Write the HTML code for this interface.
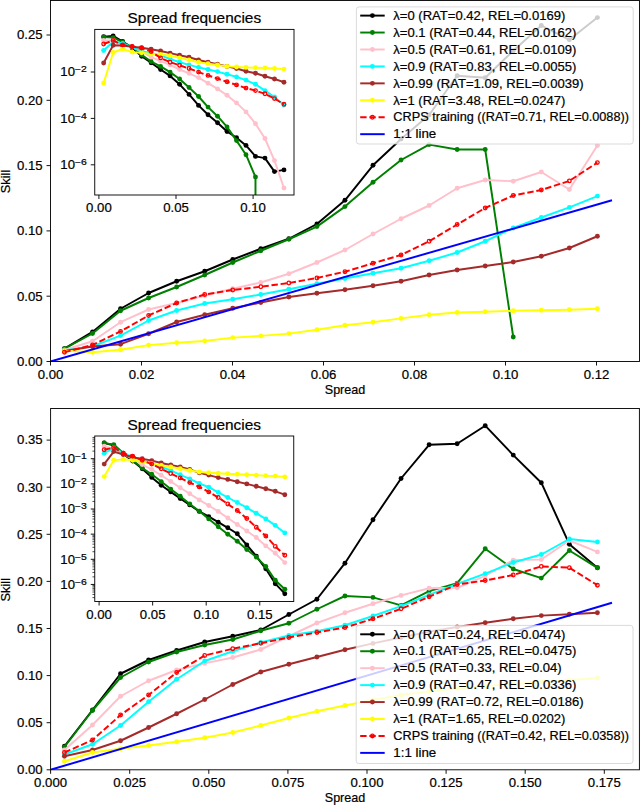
<!DOCTYPE html><html><head><meta charset="utf-8"><title>Spread-skill</title><style>html,body{margin:0;padding:0;background:#fff;width:640px;height:806px;overflow:hidden}svg text{font-family:"Liberation Sans",sans-serif}</style></head><body><svg width="640" height="806" viewBox="0 0 640 806" style="display:block;font-family:'Liberation Sans',sans-serif"><defs><clipPath id="ctop"><rect x="50.5" y="0.5" width="589.0" height="361.0"/></clipPath><clipPath id="cbot"><rect x="50.6" y="408.5" width="588.8" height="361.29999999999995"/></clipPath><clipPath id="cti"><rect x="94.75" y="29.4" width="199.25" height="165.6"/></clipPath><clipPath id="cbi"><rect x="94.75" y="436.0" width="199.0" height="165.5"/></clipPath></defs><rect width="640" height="806" fill="#fff"/><polyline points="64.45,348.60 92.50,331.90 120.55,308.75 148.60,293.00 176.65,281.25 204.70,271.25 232.75,259.50 260.80,248.75 288.85,238.75 316.90,224.00 344.95,200.30 373.00,165.30 401.05,139.00 429.10,115.00 457.15,75.80 485.20,77.80 513.25,50.80 541.30,25.50 569.35,39.80 597.40,17.60" fill="none" stroke="#000000" stroke-width="1.95" stroke-linejoin="round" stroke-linecap="butt" clip-path="url(#ctop)"/>
<circle cx="64.45" cy="348.60" r="2.45" fill="#000000" clip-path="url(#ctop)"/>
<circle cx="92.50" cy="331.90" r="2.45" fill="#000000" clip-path="url(#ctop)"/>
<circle cx="120.55" cy="308.75" r="2.45" fill="#000000" clip-path="url(#ctop)"/>
<circle cx="148.60" cy="293.00" r="2.45" fill="#000000" clip-path="url(#ctop)"/>
<circle cx="176.65" cy="281.25" r="2.45" fill="#000000" clip-path="url(#ctop)"/>
<circle cx="204.70" cy="271.25" r="2.45" fill="#000000" clip-path="url(#ctop)"/>
<circle cx="232.75" cy="259.50" r="2.45" fill="#000000" clip-path="url(#ctop)"/>
<circle cx="260.80" cy="248.75" r="2.45" fill="#000000" clip-path="url(#ctop)"/>
<circle cx="288.85" cy="238.75" r="2.45" fill="#000000" clip-path="url(#ctop)"/>
<circle cx="316.90" cy="224.00" r="2.45" fill="#000000" clip-path="url(#ctop)"/>
<circle cx="344.95" cy="200.30" r="2.45" fill="#000000" clip-path="url(#ctop)"/>
<circle cx="373.00" cy="165.30" r="2.45" fill="#000000" clip-path="url(#ctop)"/>
<circle cx="401.05" cy="139.00" r="2.45" fill="#000000" clip-path="url(#ctop)"/>
<circle cx="429.10" cy="115.00" r="2.45" fill="#000000" clip-path="url(#ctop)"/>
<circle cx="457.15" cy="75.80" r="2.45" fill="#000000" clip-path="url(#ctop)"/>
<circle cx="485.20" cy="77.80" r="2.45" fill="#000000" clip-path="url(#ctop)"/>
<circle cx="513.25" cy="50.80" r="2.45" fill="#000000" clip-path="url(#ctop)"/>
<circle cx="541.30" cy="25.50" r="2.45" fill="#000000" clip-path="url(#ctop)"/>
<circle cx="569.35" cy="39.80" r="2.45" fill="#000000" clip-path="url(#ctop)"/>
<circle cx="597.40" cy="17.60" r="2.45" fill="#000000" clip-path="url(#ctop)"/>
<polyline points="64.45,348.60 92.50,333.50 120.55,310.75 148.60,298.00 176.65,287.00 204.70,275.00 232.75,262.50 260.80,250.75 288.85,239.25 316.90,226.60 344.95,206.60 373.00,182.30 401.05,160.00 429.10,144.60 457.15,149.50 485.20,149.50 513.25,337.00" fill="none" stroke="#008000" stroke-width="1.95" stroke-linejoin="round" stroke-linecap="butt" clip-path="url(#ctop)"/>
<circle cx="64.45" cy="348.60" r="2.45" fill="#008000" clip-path="url(#ctop)"/>
<circle cx="92.50" cy="333.50" r="2.45" fill="#008000" clip-path="url(#ctop)"/>
<circle cx="120.55" cy="310.75" r="2.45" fill="#008000" clip-path="url(#ctop)"/>
<circle cx="148.60" cy="298.00" r="2.45" fill="#008000" clip-path="url(#ctop)"/>
<circle cx="176.65" cy="287.00" r="2.45" fill="#008000" clip-path="url(#ctop)"/>
<circle cx="204.70" cy="275.00" r="2.45" fill="#008000" clip-path="url(#ctop)"/>
<circle cx="232.75" cy="262.50" r="2.45" fill="#008000" clip-path="url(#ctop)"/>
<circle cx="260.80" cy="250.75" r="2.45" fill="#008000" clip-path="url(#ctop)"/>
<circle cx="288.85" cy="239.25" r="2.45" fill="#008000" clip-path="url(#ctop)"/>
<circle cx="316.90" cy="226.60" r="2.45" fill="#008000" clip-path="url(#ctop)"/>
<circle cx="344.95" cy="206.60" r="2.45" fill="#008000" clip-path="url(#ctop)"/>
<circle cx="373.00" cy="182.30" r="2.45" fill="#008000" clip-path="url(#ctop)"/>
<circle cx="401.05" cy="160.00" r="2.45" fill="#008000" clip-path="url(#ctop)"/>
<circle cx="429.10" cy="144.60" r="2.45" fill="#008000" clip-path="url(#ctop)"/>
<circle cx="457.15" cy="149.50" r="2.45" fill="#008000" clip-path="url(#ctop)"/>
<circle cx="485.20" cy="149.50" r="2.45" fill="#008000" clip-path="url(#ctop)"/>
<circle cx="513.25" cy="337.00" r="2.45" fill="#008000" clip-path="url(#ctop)"/>
<polyline points="64.45,350.00 92.50,341.25 120.55,322.20 148.60,309.50 176.65,303.00 204.70,295.50 232.75,288.75 260.80,282.50 288.85,273.75 316.90,262.50 344.95,250.00 373.00,234.00 401.05,218.75 429.10,205.50 457.15,188.25 485.20,180.00 513.25,181.25 541.30,172.00 569.35,189.50 597.40,145.50" fill="none" stroke="#ffc0cb" stroke-width="1.95" stroke-linejoin="round" stroke-linecap="butt" clip-path="url(#ctop)"/>
<circle cx="64.45" cy="350.00" r="2.45" fill="#ffc0cb" clip-path="url(#ctop)"/>
<circle cx="92.50" cy="341.25" r="2.45" fill="#ffc0cb" clip-path="url(#ctop)"/>
<circle cx="120.55" cy="322.20" r="2.45" fill="#ffc0cb" clip-path="url(#ctop)"/>
<circle cx="148.60" cy="309.50" r="2.45" fill="#ffc0cb" clip-path="url(#ctop)"/>
<circle cx="176.65" cy="303.00" r="2.45" fill="#ffc0cb" clip-path="url(#ctop)"/>
<circle cx="204.70" cy="295.50" r="2.45" fill="#ffc0cb" clip-path="url(#ctop)"/>
<circle cx="232.75" cy="288.75" r="2.45" fill="#ffc0cb" clip-path="url(#ctop)"/>
<circle cx="260.80" cy="282.50" r="2.45" fill="#ffc0cb" clip-path="url(#ctop)"/>
<circle cx="288.85" cy="273.75" r="2.45" fill="#ffc0cb" clip-path="url(#ctop)"/>
<circle cx="316.90" cy="262.50" r="2.45" fill="#ffc0cb" clip-path="url(#ctop)"/>
<circle cx="344.95" cy="250.00" r="2.45" fill="#ffc0cb" clip-path="url(#ctop)"/>
<circle cx="373.00" cy="234.00" r="2.45" fill="#ffc0cb" clip-path="url(#ctop)"/>
<circle cx="401.05" cy="218.75" r="2.45" fill="#ffc0cb" clip-path="url(#ctop)"/>
<circle cx="429.10" cy="205.50" r="2.45" fill="#ffc0cb" clip-path="url(#ctop)"/>
<circle cx="457.15" cy="188.25" r="2.45" fill="#ffc0cb" clip-path="url(#ctop)"/>
<circle cx="485.20" cy="180.00" r="2.45" fill="#ffc0cb" clip-path="url(#ctop)"/>
<circle cx="513.25" cy="181.25" r="2.45" fill="#ffc0cb" clip-path="url(#ctop)"/>
<circle cx="541.30" cy="172.00" r="2.45" fill="#ffc0cb" clip-path="url(#ctop)"/>
<circle cx="569.35" cy="189.50" r="2.45" fill="#ffc0cb" clip-path="url(#ctop)"/>
<circle cx="597.40" cy="145.50" r="2.45" fill="#ffc0cb" clip-path="url(#ctop)"/>
<polyline points="64.45,350.50 92.50,346.25 120.55,335.60 148.60,320.50 176.65,310.50 204.70,303.50 232.75,299.25 260.80,294.50 288.85,289.25 316.90,283.75 344.95,278.50 373.00,273.25 401.05,268.25 429.10,260.75 457.15,252.50 485.20,241.25 513.25,228.00 541.30,217.50 569.35,207.40 597.40,196.10" fill="none" stroke="#00ffff" stroke-width="1.95" stroke-linejoin="round" stroke-linecap="butt" clip-path="url(#ctop)"/>
<circle cx="64.45" cy="350.50" r="2.45" fill="#00ffff" clip-path="url(#ctop)"/>
<circle cx="92.50" cy="346.25" r="2.45" fill="#00ffff" clip-path="url(#ctop)"/>
<circle cx="120.55" cy="335.60" r="2.45" fill="#00ffff" clip-path="url(#ctop)"/>
<circle cx="148.60" cy="320.50" r="2.45" fill="#00ffff" clip-path="url(#ctop)"/>
<circle cx="176.65" cy="310.50" r="2.45" fill="#00ffff" clip-path="url(#ctop)"/>
<circle cx="204.70" cy="303.50" r="2.45" fill="#00ffff" clip-path="url(#ctop)"/>
<circle cx="232.75" cy="299.25" r="2.45" fill="#00ffff" clip-path="url(#ctop)"/>
<circle cx="260.80" cy="294.50" r="2.45" fill="#00ffff" clip-path="url(#ctop)"/>
<circle cx="288.85" cy="289.25" r="2.45" fill="#00ffff" clip-path="url(#ctop)"/>
<circle cx="316.90" cy="283.75" r="2.45" fill="#00ffff" clip-path="url(#ctop)"/>
<circle cx="344.95" cy="278.50" r="2.45" fill="#00ffff" clip-path="url(#ctop)"/>
<circle cx="373.00" cy="273.25" r="2.45" fill="#00ffff" clip-path="url(#ctop)"/>
<circle cx="401.05" cy="268.25" r="2.45" fill="#00ffff" clip-path="url(#ctop)"/>
<circle cx="429.10" cy="260.75" r="2.45" fill="#00ffff" clip-path="url(#ctop)"/>
<circle cx="457.15" cy="252.50" r="2.45" fill="#00ffff" clip-path="url(#ctop)"/>
<circle cx="485.20" cy="241.25" r="2.45" fill="#00ffff" clip-path="url(#ctop)"/>
<circle cx="513.25" cy="228.00" r="2.45" fill="#00ffff" clip-path="url(#ctop)"/>
<circle cx="541.30" cy="217.50" r="2.45" fill="#00ffff" clip-path="url(#ctop)"/>
<circle cx="569.35" cy="207.40" r="2.45" fill="#00ffff" clip-path="url(#ctop)"/>
<circle cx="597.40" cy="196.10" r="2.45" fill="#00ffff" clip-path="url(#ctop)"/>
<polyline points="64.45,351.00 92.50,346.50 120.55,344.20 148.60,333.75 176.65,322.00 204.70,314.75 232.75,308.25 260.80,302.50 288.85,297.00 316.90,293.25 344.95,289.75 373.00,285.75 401.05,281.25 429.10,275.00 457.15,270.00 485.20,266.00 513.25,262.00 541.30,256.25 569.35,248.00 597.40,236.25" fill="none" stroke="#a52a2a" stroke-width="1.95" stroke-linejoin="round" stroke-linecap="butt" clip-path="url(#ctop)"/>
<circle cx="64.45" cy="351.00" r="2.45" fill="#a52a2a" clip-path="url(#ctop)"/>
<circle cx="92.50" cy="346.50" r="2.45" fill="#a52a2a" clip-path="url(#ctop)"/>
<circle cx="120.55" cy="344.20" r="2.45" fill="#a52a2a" clip-path="url(#ctop)"/>
<circle cx="148.60" cy="333.75" r="2.45" fill="#a52a2a" clip-path="url(#ctop)"/>
<circle cx="176.65" cy="322.00" r="2.45" fill="#a52a2a" clip-path="url(#ctop)"/>
<circle cx="204.70" cy="314.75" r="2.45" fill="#a52a2a" clip-path="url(#ctop)"/>
<circle cx="232.75" cy="308.25" r="2.45" fill="#a52a2a" clip-path="url(#ctop)"/>
<circle cx="260.80" cy="302.50" r="2.45" fill="#a52a2a" clip-path="url(#ctop)"/>
<circle cx="288.85" cy="297.00" r="2.45" fill="#a52a2a" clip-path="url(#ctop)"/>
<circle cx="316.90" cy="293.25" r="2.45" fill="#a52a2a" clip-path="url(#ctop)"/>
<circle cx="344.95" cy="289.75" r="2.45" fill="#a52a2a" clip-path="url(#ctop)"/>
<circle cx="373.00" cy="285.75" r="2.45" fill="#a52a2a" clip-path="url(#ctop)"/>
<circle cx="401.05" cy="281.25" r="2.45" fill="#a52a2a" clip-path="url(#ctop)"/>
<circle cx="429.10" cy="275.00" r="2.45" fill="#a52a2a" clip-path="url(#ctop)"/>
<circle cx="457.15" cy="270.00" r="2.45" fill="#a52a2a" clip-path="url(#ctop)"/>
<circle cx="485.20" cy="266.00" r="2.45" fill="#a52a2a" clip-path="url(#ctop)"/>
<circle cx="513.25" cy="262.00" r="2.45" fill="#a52a2a" clip-path="url(#ctop)"/>
<circle cx="541.30" cy="256.25" r="2.45" fill="#a52a2a" clip-path="url(#ctop)"/>
<circle cx="569.35" cy="248.00" r="2.45" fill="#a52a2a" clip-path="url(#ctop)"/>
<circle cx="597.40" cy="236.25" r="2.45" fill="#a52a2a" clip-path="url(#ctop)"/>
<polyline points="64.45,350.60 92.50,352.25 120.55,349.75 148.60,345.10 176.65,342.80 204.70,341.00 232.75,337.60 260.80,335.90 288.85,333.60 316.90,329.70 344.95,325.30 373.00,322.30 401.05,318.40 429.10,314.70 457.15,312.50 485.20,311.80 513.25,310.75 541.30,310.30 569.35,309.70 597.40,308.80" fill="none" stroke="#ffff00" stroke-width="1.95" stroke-linejoin="round" stroke-linecap="butt" clip-path="url(#ctop)"/>
<circle cx="64.45" cy="350.60" r="2.45" fill="#ffff00" clip-path="url(#ctop)"/>
<circle cx="92.50" cy="352.25" r="2.45" fill="#ffff00" clip-path="url(#ctop)"/>
<circle cx="120.55" cy="349.75" r="2.45" fill="#ffff00" clip-path="url(#ctop)"/>
<circle cx="148.60" cy="345.10" r="2.45" fill="#ffff00" clip-path="url(#ctop)"/>
<circle cx="176.65" cy="342.80" r="2.45" fill="#ffff00" clip-path="url(#ctop)"/>
<circle cx="204.70" cy="341.00" r="2.45" fill="#ffff00" clip-path="url(#ctop)"/>
<circle cx="232.75" cy="337.60" r="2.45" fill="#ffff00" clip-path="url(#ctop)"/>
<circle cx="260.80" cy="335.90" r="2.45" fill="#ffff00" clip-path="url(#ctop)"/>
<circle cx="288.85" cy="333.60" r="2.45" fill="#ffff00" clip-path="url(#ctop)"/>
<circle cx="316.90" cy="329.70" r="2.45" fill="#ffff00" clip-path="url(#ctop)"/>
<circle cx="344.95" cy="325.30" r="2.45" fill="#ffff00" clip-path="url(#ctop)"/>
<circle cx="373.00" cy="322.30" r="2.45" fill="#ffff00" clip-path="url(#ctop)"/>
<circle cx="401.05" cy="318.40" r="2.45" fill="#ffff00" clip-path="url(#ctop)"/>
<circle cx="429.10" cy="314.70" r="2.45" fill="#ffff00" clip-path="url(#ctop)"/>
<circle cx="457.15" cy="312.50" r="2.45" fill="#ffff00" clip-path="url(#ctop)"/>
<circle cx="485.20" cy="311.80" r="2.45" fill="#ffff00" clip-path="url(#ctop)"/>
<circle cx="513.25" cy="310.75" r="2.45" fill="#ffff00" clip-path="url(#ctop)"/>
<circle cx="541.30" cy="310.30" r="2.45" fill="#ffff00" clip-path="url(#ctop)"/>
<circle cx="569.35" cy="309.70" r="2.45" fill="#ffff00" clip-path="url(#ctop)"/>
<circle cx="597.40" cy="308.80" r="2.45" fill="#ffff00" clip-path="url(#ctop)"/>
<polyline points="64.45,352.25 92.50,345.00 120.55,331.40 148.60,315.50 176.65,303.00 204.70,294.50 232.75,290.00 260.80,286.75 288.85,283.00 316.90,278.00 344.95,271.75 373.00,263.25 401.05,255.00 429.10,241.25 457.15,224.50 485.20,208.00 513.25,195.50 541.30,190.00 569.35,180.90 597.40,162.60" fill="none" stroke="#ff0000" stroke-width="1.95" stroke-linejoin="round" stroke-linecap="butt" stroke-dasharray="6.4,2.76" clip-path="url(#ctop)"/>
<circle cx="64.45" cy="352.25" r="1.80" fill="none" stroke="#ff0000" stroke-width="1.3" clip-path="url(#ctop)"/>
<circle cx="92.50" cy="345.00" r="1.80" fill="none" stroke="#ff0000" stroke-width="1.3" clip-path="url(#ctop)"/>
<circle cx="120.55" cy="331.40" r="1.80" fill="none" stroke="#ff0000" stroke-width="1.3" clip-path="url(#ctop)"/>
<circle cx="148.60" cy="315.50" r="1.80" fill="none" stroke="#ff0000" stroke-width="1.3" clip-path="url(#ctop)"/>
<circle cx="176.65" cy="303.00" r="1.80" fill="none" stroke="#ff0000" stroke-width="1.3" clip-path="url(#ctop)"/>
<circle cx="204.70" cy="294.50" r="1.80" fill="none" stroke="#ff0000" stroke-width="1.3" clip-path="url(#ctop)"/>
<circle cx="232.75" cy="290.00" r="1.80" fill="none" stroke="#ff0000" stroke-width="1.3" clip-path="url(#ctop)"/>
<circle cx="260.80" cy="286.75" r="1.80" fill="none" stroke="#ff0000" stroke-width="1.3" clip-path="url(#ctop)"/>
<circle cx="288.85" cy="283.00" r="1.80" fill="none" stroke="#ff0000" stroke-width="1.3" clip-path="url(#ctop)"/>
<circle cx="316.90" cy="278.00" r="1.80" fill="none" stroke="#ff0000" stroke-width="1.3" clip-path="url(#ctop)"/>
<circle cx="344.95" cy="271.75" r="1.80" fill="none" stroke="#ff0000" stroke-width="1.3" clip-path="url(#ctop)"/>
<circle cx="373.00" cy="263.25" r="1.80" fill="none" stroke="#ff0000" stroke-width="1.3" clip-path="url(#ctop)"/>
<circle cx="401.05" cy="255.00" r="1.80" fill="none" stroke="#ff0000" stroke-width="1.3" clip-path="url(#ctop)"/>
<circle cx="429.10" cy="241.25" r="1.80" fill="none" stroke="#ff0000" stroke-width="1.3" clip-path="url(#ctop)"/>
<circle cx="457.15" cy="224.50" r="1.80" fill="none" stroke="#ff0000" stroke-width="1.3" clip-path="url(#ctop)"/>
<circle cx="485.20" cy="208.00" r="1.80" fill="none" stroke="#ff0000" stroke-width="1.3" clip-path="url(#ctop)"/>
<circle cx="513.25" cy="195.50" r="1.80" fill="none" stroke="#ff0000" stroke-width="1.3" clip-path="url(#ctop)"/>
<circle cx="541.30" cy="190.00" r="1.80" fill="none" stroke="#ff0000" stroke-width="1.3" clip-path="url(#ctop)"/>
<circle cx="569.35" cy="180.90" r="1.80" fill="none" stroke="#ff0000" stroke-width="1.3" clip-path="url(#ctop)"/>
<circle cx="597.40" cy="162.60" r="1.80" fill="none" stroke="#ff0000" stroke-width="1.3" clip-path="url(#ctop)"/>
<line x1="50.5" y1="361.5" x2="612" y2="200.3" stroke="#0000ff" stroke-width="1.95" clip-path="url(#ctop)"/>
<rect x="50.5" y="0.5" width="589.0" height="361.0" fill="none" stroke="#000" stroke-width="0.92"/>
<line x1="50.50" y1="361.5" x2="50.50" y2="365.5" stroke="#000" stroke-width="0.92"/>
<text x="50.50" y="378.70" font-size="12.08" text-anchor="middle" textLength="25.61" lengthAdjust="spacingAndGlyphs" fill="#000" stroke="#000" stroke-width="0.2" >0.00</text>
<line x1="141.50" y1="361.5" x2="141.50" y2="365.5" stroke="#000" stroke-width="0.92"/>
<text x="141.50" y="378.70" font-size="12.08" text-anchor="middle" textLength="25.61" lengthAdjust="spacingAndGlyphs" fill="#000" stroke="#000" stroke-width="0.2" >0.02</text>
<line x1="232.50" y1="361.5" x2="232.50" y2="365.5" stroke="#000" stroke-width="0.92"/>
<text x="232.50" y="378.70" font-size="12.08" text-anchor="middle" textLength="25.61" lengthAdjust="spacingAndGlyphs" fill="#000" stroke="#000" stroke-width="0.2" >0.04</text>
<line x1="323.50" y1="361.5" x2="323.50" y2="365.5" stroke="#000" stroke-width="0.92"/>
<text x="323.50" y="378.70" font-size="12.08" text-anchor="middle" textLength="25.61" lengthAdjust="spacingAndGlyphs" fill="#000" stroke="#000" stroke-width="0.2" >0.06</text>
<line x1="414.50" y1="361.5" x2="414.50" y2="365.5" stroke="#000" stroke-width="0.92"/>
<text x="414.50" y="378.70" font-size="12.08" text-anchor="middle" textLength="25.61" lengthAdjust="spacingAndGlyphs" fill="#000" stroke="#000" stroke-width="0.2" >0.08</text>
<line x1="505.50" y1="361.5" x2="505.50" y2="365.5" stroke="#000" stroke-width="0.92"/>
<text x="505.50" y="378.70" font-size="12.08" text-anchor="middle" textLength="25.61" lengthAdjust="spacingAndGlyphs" fill="#000" stroke="#000" stroke-width="0.2" >0.10</text>
<line x1="596.50" y1="361.5" x2="596.50" y2="365.5" stroke="#000" stroke-width="0.92"/>
<text x="596.50" y="378.70" font-size="12.08" text-anchor="middle" textLength="25.61" lengthAdjust="spacingAndGlyphs" fill="#000" stroke="#000" stroke-width="0.2" >0.12</text>
<line x1="46.5" y1="361.50" x2="50.5" y2="361.50" stroke="#000" stroke-width="0.92"/>
<text x="42.60" y="365.80" font-size="12.08" text-anchor="end" textLength="25.61" lengthAdjust="spacingAndGlyphs" fill="#000" stroke="#000" stroke-width="0.2" >0.00</text>
<line x1="46.5" y1="296.20" x2="50.5" y2="296.20" stroke="#000" stroke-width="0.92"/>
<text x="42.60" y="300.50" font-size="12.08" text-anchor="end" textLength="25.61" lengthAdjust="spacingAndGlyphs" fill="#000" stroke="#000" stroke-width="0.2" >0.05</text>
<line x1="46.5" y1="230.90" x2="50.5" y2="230.90" stroke="#000" stroke-width="0.92"/>
<text x="42.60" y="235.20" font-size="12.08" text-anchor="end" textLength="25.61" lengthAdjust="spacingAndGlyphs" fill="#000" stroke="#000" stroke-width="0.2" >0.10</text>
<line x1="46.5" y1="165.60" x2="50.5" y2="165.60" stroke="#000" stroke-width="0.92"/>
<text x="42.60" y="169.90" font-size="12.08" text-anchor="end" textLength="25.61" lengthAdjust="spacingAndGlyphs" fill="#000" stroke="#000" stroke-width="0.2" >0.15</text>
<line x1="46.5" y1="100.30" x2="50.5" y2="100.30" stroke="#000" stroke-width="0.92"/>
<text x="42.60" y="104.60" font-size="12.08" text-anchor="end" textLength="25.61" lengthAdjust="spacingAndGlyphs" fill="#000" stroke="#000" stroke-width="0.2" >0.20</text>
<line x1="46.5" y1="35.00" x2="50.5" y2="35.00" stroke="#000" stroke-width="0.92"/>
<text x="42.60" y="39.30" font-size="12.08" text-anchor="end" textLength="25.61" lengthAdjust="spacingAndGlyphs" fill="#000" stroke="#000" stroke-width="0.2" >0.25</text>
<text x="345.00" y="393.90" font-size="12.08" text-anchor="middle" textLength="40.50" lengthAdjust="spacingAndGlyphs" fill="#000" stroke="#000" stroke-width="0.2" >Spread</text>
<text x="0.00" y="0.00" font-size="12.08" text-anchor="middle" textLength="23.54" lengthAdjust="spacingAndGlyphs" fill="#000" stroke="#000" stroke-width="0.2" transform="translate(10.0,181.5) rotate(-90)">Skill</text>
<rect x="94.75" y="29.4" width="199.25" height="165.6" fill="#fff"/>
<polyline points="103.65,36.75 113.14,35.90 122.63,41.50 132.12,47.75 141.61,56.25 151.10,62.75 160.59,69.50 170.08,75.90 179.57,84.30 189.06,94.40 198.55,105.40 208.04,114.70 217.53,122.70 227.02,131.50 236.51,137.80 246.00,145.40 255.49,156.40 264.98,158.10 274.47,171.60 283.96,169.90" fill="none" stroke="#000000" stroke-width="1.95" stroke-linejoin="round" stroke-linecap="butt" clip-path="url(#cti)"/>
<circle cx="103.65" cy="36.75" r="2.45" fill="#000000" clip-path="url(#cti)"/>
<circle cx="113.14" cy="35.90" r="2.45" fill="#000000" clip-path="url(#cti)"/>
<circle cx="122.63" cy="41.50" r="2.45" fill="#000000" clip-path="url(#cti)"/>
<circle cx="132.12" cy="47.75" r="2.45" fill="#000000" clip-path="url(#cti)"/>
<circle cx="141.61" cy="56.25" r="2.45" fill="#000000" clip-path="url(#cti)"/>
<circle cx="151.10" cy="62.75" r="2.45" fill="#000000" clip-path="url(#cti)"/>
<circle cx="160.59" cy="69.50" r="2.45" fill="#000000" clip-path="url(#cti)"/>
<circle cx="170.08" cy="75.90" r="2.45" fill="#000000" clip-path="url(#cti)"/>
<circle cx="179.57" cy="84.30" r="2.45" fill="#000000" clip-path="url(#cti)"/>
<circle cx="189.06" cy="94.40" r="2.45" fill="#000000" clip-path="url(#cti)"/>
<circle cx="198.55" cy="105.40" r="2.45" fill="#000000" clip-path="url(#cti)"/>
<circle cx="208.04" cy="114.70" r="2.45" fill="#000000" clip-path="url(#cti)"/>
<circle cx="217.53" cy="122.70" r="2.45" fill="#000000" clip-path="url(#cti)"/>
<circle cx="227.02" cy="131.50" r="2.45" fill="#000000" clip-path="url(#cti)"/>
<circle cx="236.51" cy="137.80" r="2.45" fill="#000000" clip-path="url(#cti)"/>
<circle cx="246.00" cy="145.40" r="2.45" fill="#000000" clip-path="url(#cti)"/>
<circle cx="255.49" cy="156.40" r="2.45" fill="#000000" clip-path="url(#cti)"/>
<circle cx="264.98" cy="158.10" r="2.45" fill="#000000" clip-path="url(#cti)"/>
<circle cx="274.47" cy="171.60" r="2.45" fill="#000000" clip-path="url(#cti)"/>
<circle cx="283.96" cy="169.90" r="2.45" fill="#000000" clip-path="url(#cti)"/>
<polyline points="103.65,37.10 113.14,37.60 122.63,42.10 132.12,47.10 141.61,54.90 151.10,61.50 160.59,66.40 170.08,72.10 179.57,79.00 189.06,87.50 198.55,96.50 208.04,107.10 217.53,116.20 227.02,126.90 236.51,140.60 246.00,154.70 255.49,177.00 255.49,200.00" fill="none" stroke="#008000" stroke-width="1.95" stroke-linejoin="round" stroke-linecap="butt" clip-path="url(#cti)"/>
<circle cx="103.65" cy="37.10" r="2.45" fill="#008000" clip-path="url(#cti)"/>
<circle cx="113.14" cy="37.60" r="2.45" fill="#008000" clip-path="url(#cti)"/>
<circle cx="122.63" cy="42.10" r="2.45" fill="#008000" clip-path="url(#cti)"/>
<circle cx="132.12" cy="47.10" r="2.45" fill="#008000" clip-path="url(#cti)"/>
<circle cx="141.61" cy="54.90" r="2.45" fill="#008000" clip-path="url(#cti)"/>
<circle cx="151.10" cy="61.50" r="2.45" fill="#008000" clip-path="url(#cti)"/>
<circle cx="160.59" cy="66.40" r="2.45" fill="#008000" clip-path="url(#cti)"/>
<circle cx="170.08" cy="72.10" r="2.45" fill="#008000" clip-path="url(#cti)"/>
<circle cx="179.57" cy="79.00" r="2.45" fill="#008000" clip-path="url(#cti)"/>
<circle cx="189.06" cy="87.50" r="2.45" fill="#008000" clip-path="url(#cti)"/>
<circle cx="198.55" cy="96.50" r="2.45" fill="#008000" clip-path="url(#cti)"/>
<circle cx="208.04" cy="107.10" r="2.45" fill="#008000" clip-path="url(#cti)"/>
<circle cx="217.53" cy="116.20" r="2.45" fill="#008000" clip-path="url(#cti)"/>
<circle cx="227.02" cy="126.90" r="2.45" fill="#008000" clip-path="url(#cti)"/>
<circle cx="236.51" cy="140.60" r="2.45" fill="#008000" clip-path="url(#cti)"/>
<circle cx="246.00" cy="154.70" r="2.45" fill="#008000" clip-path="url(#cti)"/>
<circle cx="255.49" cy="177.00" r="2.45" fill="#008000" clip-path="url(#cti)"/>
<polyline points="103.65,40.50 113.14,40.50 122.63,44.60 132.12,47.10 141.61,51.50 151.10,57.10 160.59,61.10 170.08,64.90 179.57,69.50 189.06,73.30 198.55,77.60 208.04,83.20 217.53,88.90 227.02,95.30 236.51,102.90 246.00,111.90 255.49,123.70 264.98,138.50 274.47,160.60 283.96,188.00" fill="none" stroke="#ffc0cb" stroke-width="1.95" stroke-linejoin="round" stroke-linecap="butt" clip-path="url(#cti)"/>
<circle cx="103.65" cy="40.50" r="2.45" fill="#ffc0cb" clip-path="url(#cti)"/>
<circle cx="113.14" cy="40.50" r="2.45" fill="#ffc0cb" clip-path="url(#cti)"/>
<circle cx="122.63" cy="44.60" r="2.45" fill="#ffc0cb" clip-path="url(#cti)"/>
<circle cx="132.12" cy="47.10" r="2.45" fill="#ffc0cb" clip-path="url(#cti)"/>
<circle cx="141.61" cy="51.50" r="2.45" fill="#ffc0cb" clip-path="url(#cti)"/>
<circle cx="151.10" cy="57.10" r="2.45" fill="#ffc0cb" clip-path="url(#cti)"/>
<circle cx="160.59" cy="61.10" r="2.45" fill="#ffc0cb" clip-path="url(#cti)"/>
<circle cx="170.08" cy="64.90" r="2.45" fill="#ffc0cb" clip-path="url(#cti)"/>
<circle cx="179.57" cy="69.50" r="2.45" fill="#ffc0cb" clip-path="url(#cti)"/>
<circle cx="189.06" cy="73.30" r="2.45" fill="#ffc0cb" clip-path="url(#cti)"/>
<circle cx="198.55" cy="77.60" r="2.45" fill="#ffc0cb" clip-path="url(#cti)"/>
<circle cx="208.04" cy="83.20" r="2.45" fill="#ffc0cb" clip-path="url(#cti)"/>
<circle cx="217.53" cy="88.90" r="2.45" fill="#ffc0cb" clip-path="url(#cti)"/>
<circle cx="227.02" cy="95.30" r="2.45" fill="#ffc0cb" clip-path="url(#cti)"/>
<circle cx="236.51" cy="102.90" r="2.45" fill="#ffc0cb" clip-path="url(#cti)"/>
<circle cx="246.00" cy="111.90" r="2.45" fill="#ffc0cb" clip-path="url(#cti)"/>
<circle cx="255.49" cy="123.70" r="2.45" fill="#ffc0cb" clip-path="url(#cti)"/>
<circle cx="264.98" cy="138.50" r="2.45" fill="#ffc0cb" clip-path="url(#cti)"/>
<circle cx="274.47" cy="160.60" r="2.45" fill="#ffc0cb" clip-path="url(#cti)"/>
<circle cx="283.96" cy="188.00" r="2.45" fill="#ffc0cb" clip-path="url(#cti)"/>
<polyline points="103.65,50.50 113.14,41.50 122.63,43.50 132.12,47.10 141.61,50.90 151.10,53.40 160.59,55.40 170.08,59.00 179.57,62.20 189.06,64.90 198.55,67.40 208.04,69.50 217.53,71.60 227.02,74.20 236.51,76.90 246.00,80.10 255.49,84.30 264.98,90.60 274.47,97.00 283.96,105.00" fill="none" stroke="#00ffff" stroke-width="1.95" stroke-linejoin="round" stroke-linecap="butt" clip-path="url(#cti)"/>
<circle cx="103.65" cy="50.50" r="2.45" fill="#00ffff" clip-path="url(#cti)"/>
<circle cx="113.14" cy="41.50" r="2.45" fill="#00ffff" clip-path="url(#cti)"/>
<circle cx="122.63" cy="43.50" r="2.45" fill="#00ffff" clip-path="url(#cti)"/>
<circle cx="132.12" cy="47.10" r="2.45" fill="#00ffff" clip-path="url(#cti)"/>
<circle cx="141.61" cy="50.90" r="2.45" fill="#00ffff" clip-path="url(#cti)"/>
<circle cx="151.10" cy="53.40" r="2.45" fill="#00ffff" clip-path="url(#cti)"/>
<circle cx="160.59" cy="55.40" r="2.45" fill="#00ffff" clip-path="url(#cti)"/>
<circle cx="170.08" cy="59.00" r="2.45" fill="#00ffff" clip-path="url(#cti)"/>
<circle cx="179.57" cy="62.20" r="2.45" fill="#00ffff" clip-path="url(#cti)"/>
<circle cx="189.06" cy="64.90" r="2.45" fill="#00ffff" clip-path="url(#cti)"/>
<circle cx="198.55" cy="67.40" r="2.45" fill="#00ffff" clip-path="url(#cti)"/>
<circle cx="208.04" cy="69.50" r="2.45" fill="#00ffff" clip-path="url(#cti)"/>
<circle cx="217.53" cy="71.60" r="2.45" fill="#00ffff" clip-path="url(#cti)"/>
<circle cx="227.02" cy="74.20" r="2.45" fill="#00ffff" clip-path="url(#cti)"/>
<circle cx="236.51" cy="76.90" r="2.45" fill="#00ffff" clip-path="url(#cti)"/>
<circle cx="246.00" cy="80.10" r="2.45" fill="#00ffff" clip-path="url(#cti)"/>
<circle cx="255.49" cy="84.30" r="2.45" fill="#00ffff" clip-path="url(#cti)"/>
<circle cx="264.98" cy="90.60" r="2.45" fill="#00ffff" clip-path="url(#cti)"/>
<circle cx="274.47" cy="97.00" r="2.45" fill="#00ffff" clip-path="url(#cti)"/>
<circle cx="283.96" cy="105.00" r="2.45" fill="#00ffff" clip-path="url(#cti)"/>
<polyline points="103.65,63.00 113.14,45.25 122.63,45.50 132.12,46.75 141.61,47.75 151.10,49.25 160.59,51.00 170.08,53.10 179.57,55.20 189.06,57.30 198.55,60.00 208.04,62.20 217.53,64.30 227.02,66.40 236.51,68.50 246.00,71.20 255.49,73.30 264.98,76.30 274.47,79.00 283.96,82.20" fill="none" stroke="#a52a2a" stroke-width="1.95" stroke-linejoin="round" stroke-linecap="butt" clip-path="url(#cti)"/>
<circle cx="103.65" cy="63.00" r="2.45" fill="#a52a2a" clip-path="url(#cti)"/>
<circle cx="113.14" cy="45.25" r="2.45" fill="#a52a2a" clip-path="url(#cti)"/>
<circle cx="122.63" cy="45.50" r="2.45" fill="#a52a2a" clip-path="url(#cti)"/>
<circle cx="132.12" cy="46.75" r="2.45" fill="#a52a2a" clip-path="url(#cti)"/>
<circle cx="141.61" cy="47.75" r="2.45" fill="#a52a2a" clip-path="url(#cti)"/>
<circle cx="151.10" cy="49.25" r="2.45" fill="#a52a2a" clip-path="url(#cti)"/>
<circle cx="160.59" cy="51.00" r="2.45" fill="#a52a2a" clip-path="url(#cti)"/>
<circle cx="170.08" cy="53.10" r="2.45" fill="#a52a2a" clip-path="url(#cti)"/>
<circle cx="179.57" cy="55.20" r="2.45" fill="#a52a2a" clip-path="url(#cti)"/>
<circle cx="189.06" cy="57.30" r="2.45" fill="#a52a2a" clip-path="url(#cti)"/>
<circle cx="198.55" cy="60.00" r="2.45" fill="#a52a2a" clip-path="url(#cti)"/>
<circle cx="208.04" cy="62.20" r="2.45" fill="#a52a2a" clip-path="url(#cti)"/>
<circle cx="217.53" cy="64.30" r="2.45" fill="#a52a2a" clip-path="url(#cti)"/>
<circle cx="227.02" cy="66.40" r="2.45" fill="#a52a2a" clip-path="url(#cti)"/>
<circle cx="236.51" cy="68.50" r="2.45" fill="#a52a2a" clip-path="url(#cti)"/>
<circle cx="246.00" cy="71.20" r="2.45" fill="#a52a2a" clip-path="url(#cti)"/>
<circle cx="255.49" cy="73.30" r="2.45" fill="#a52a2a" clip-path="url(#cti)"/>
<circle cx="264.98" cy="76.30" r="2.45" fill="#a52a2a" clip-path="url(#cti)"/>
<circle cx="274.47" cy="79.00" r="2.45" fill="#a52a2a" clip-path="url(#cti)"/>
<circle cx="283.96" cy="82.20" r="2.45" fill="#a52a2a" clip-path="url(#cti)"/>
<polyline points="103.65,83.00 113.14,52.50 122.63,49.00 132.12,52.10 141.61,52.75 151.10,54.00 160.59,54.50 170.08,55.80 179.57,57.90 189.06,60.00 198.55,62.20 208.04,63.60 217.53,64.90 227.02,66.40 236.51,67.00 246.00,67.40 255.49,67.80 264.98,68.00 274.47,68.50 283.96,69.10" fill="none" stroke="#ffff00" stroke-width="1.95" stroke-linejoin="round" stroke-linecap="butt" clip-path="url(#cti)"/>
<circle cx="103.65" cy="83.00" r="2.45" fill="#ffff00" clip-path="url(#cti)"/>
<circle cx="113.14" cy="52.50" r="2.45" fill="#ffff00" clip-path="url(#cti)"/>
<circle cx="122.63" cy="49.00" r="2.45" fill="#ffff00" clip-path="url(#cti)"/>
<circle cx="132.12" cy="52.10" r="2.45" fill="#ffff00" clip-path="url(#cti)"/>
<circle cx="141.61" cy="52.75" r="2.45" fill="#ffff00" clip-path="url(#cti)"/>
<circle cx="151.10" cy="54.00" r="2.45" fill="#ffff00" clip-path="url(#cti)"/>
<circle cx="160.59" cy="54.50" r="2.45" fill="#ffff00" clip-path="url(#cti)"/>
<circle cx="170.08" cy="55.80" r="2.45" fill="#ffff00" clip-path="url(#cti)"/>
<circle cx="179.57" cy="57.90" r="2.45" fill="#ffff00" clip-path="url(#cti)"/>
<circle cx="189.06" cy="60.00" r="2.45" fill="#ffff00" clip-path="url(#cti)"/>
<circle cx="198.55" cy="62.20" r="2.45" fill="#ffff00" clip-path="url(#cti)"/>
<circle cx="208.04" cy="63.60" r="2.45" fill="#ffff00" clip-path="url(#cti)"/>
<circle cx="217.53" cy="64.90" r="2.45" fill="#ffff00" clip-path="url(#cti)"/>
<circle cx="227.02" cy="66.40" r="2.45" fill="#ffff00" clip-path="url(#cti)"/>
<circle cx="236.51" cy="67.00" r="2.45" fill="#ffff00" clip-path="url(#cti)"/>
<circle cx="246.00" cy="67.40" r="2.45" fill="#ffff00" clip-path="url(#cti)"/>
<circle cx="255.49" cy="67.80" r="2.45" fill="#ffff00" clip-path="url(#cti)"/>
<circle cx="264.98" cy="68.00" r="2.45" fill="#ffff00" clip-path="url(#cti)"/>
<circle cx="274.47" cy="68.50" r="2.45" fill="#ffff00" clip-path="url(#cti)"/>
<circle cx="283.96" cy="69.10" r="2.45" fill="#ffff00" clip-path="url(#cti)"/>
<polyline points="103.65,44.00 113.14,40.50 122.63,44.90 132.12,46.50 141.61,48.00 151.10,51.50 160.59,57.90 170.08,62.20 179.57,65.30 189.06,68.50 198.55,72.10 208.04,75.40 217.53,78.60 227.02,81.80 236.51,84.90 246.00,88.10 255.49,90.60 264.98,93.80 274.47,98.60 283.96,104.30" fill="none" stroke="#ff0000" stroke-width="1.95" stroke-linejoin="round" stroke-linecap="butt" stroke-dasharray="6.4,2.76" clip-path="url(#cti)"/>
<circle cx="103.65" cy="44.00" r="1.80" fill="none" stroke="#ff0000" stroke-width="1.3" clip-path="url(#cti)"/>
<circle cx="113.14" cy="40.50" r="1.80" fill="none" stroke="#ff0000" stroke-width="1.3" clip-path="url(#cti)"/>
<circle cx="122.63" cy="44.90" r="1.80" fill="none" stroke="#ff0000" stroke-width="1.3" clip-path="url(#cti)"/>
<circle cx="132.12" cy="46.50" r="1.80" fill="none" stroke="#ff0000" stroke-width="1.3" clip-path="url(#cti)"/>
<circle cx="141.61" cy="48.00" r="1.80" fill="none" stroke="#ff0000" stroke-width="1.3" clip-path="url(#cti)"/>
<circle cx="151.10" cy="51.50" r="1.80" fill="none" stroke="#ff0000" stroke-width="1.3" clip-path="url(#cti)"/>
<circle cx="160.59" cy="57.90" r="1.80" fill="none" stroke="#ff0000" stroke-width="1.3" clip-path="url(#cti)"/>
<circle cx="170.08" cy="62.20" r="1.80" fill="none" stroke="#ff0000" stroke-width="1.3" clip-path="url(#cti)"/>
<circle cx="179.57" cy="65.30" r="1.80" fill="none" stroke="#ff0000" stroke-width="1.3" clip-path="url(#cti)"/>
<circle cx="189.06" cy="68.50" r="1.80" fill="none" stroke="#ff0000" stroke-width="1.3" clip-path="url(#cti)"/>
<circle cx="198.55" cy="72.10" r="1.80" fill="none" stroke="#ff0000" stroke-width="1.3" clip-path="url(#cti)"/>
<circle cx="208.04" cy="75.40" r="1.80" fill="none" stroke="#ff0000" stroke-width="1.3" clip-path="url(#cti)"/>
<circle cx="217.53" cy="78.60" r="1.80" fill="none" stroke="#ff0000" stroke-width="1.3" clip-path="url(#cti)"/>
<circle cx="227.02" cy="81.80" r="1.80" fill="none" stroke="#ff0000" stroke-width="1.3" clip-path="url(#cti)"/>
<circle cx="236.51" cy="84.90" r="1.80" fill="none" stroke="#ff0000" stroke-width="1.3" clip-path="url(#cti)"/>
<circle cx="246.00" cy="88.10" r="1.80" fill="none" stroke="#ff0000" stroke-width="1.3" clip-path="url(#cti)"/>
<circle cx="255.49" cy="90.60" r="1.80" fill="none" stroke="#ff0000" stroke-width="1.3" clip-path="url(#cti)"/>
<circle cx="264.98" cy="93.80" r="1.80" fill="none" stroke="#ff0000" stroke-width="1.3" clip-path="url(#cti)"/>
<circle cx="274.47" cy="98.60" r="1.80" fill="none" stroke="#ff0000" stroke-width="1.3" clip-path="url(#cti)"/>
<circle cx="283.96" cy="104.30" r="1.80" fill="none" stroke="#ff0000" stroke-width="1.3" clip-path="url(#cti)"/>
<rect x="94.75" y="29.4" width="199.25" height="165.6" fill="none" stroke="#000" stroke-width="0.92"/>
<line x1="98.90" y1="195.0" x2="98.90" y2="199.0" stroke="#000" stroke-width="0.92"/>
<text x="98.90" y="212.20" font-size="12.08" text-anchor="middle" textLength="25.61" lengthAdjust="spacingAndGlyphs" fill="#000" stroke="#000" stroke-width="0.2" >0.00</text>
<line x1="176.00" y1="195.0" x2="176.00" y2="199.0" stroke="#000" stroke-width="0.92"/>
<text x="176.00" y="212.20" font-size="12.08" text-anchor="middle" textLength="25.61" lengthAdjust="spacingAndGlyphs" fill="#000" stroke="#000" stroke-width="0.2" >0.05</text>
<line x1="253.10" y1="195.0" x2="253.10" y2="199.0" stroke="#000" stroke-width="0.92"/>
<text x="253.10" y="212.20" font-size="12.08" text-anchor="middle" textLength="25.61" lengthAdjust="spacingAndGlyphs" fill="#000" stroke="#000" stroke-width="0.2" >0.10</text>
<line x1="90.75" y1="72.00" x2="94.75" y2="72.00" stroke="#000" stroke-width="0.92"/>
<text x="60.35" y="76.30" font-size="12.08" text-anchor="start" textLength="14.63" lengthAdjust="spacingAndGlyphs" fill="#000" stroke="#000" stroke-width="0.2" >10</text>
<text x="74.98" y="72.40" font-size="8.45" text-anchor="start" textLength="11.87" lengthAdjust="spacingAndGlyphs" fill="#000" stroke="#000" stroke-width="0.2" >−2</text>
<line x1="90.75" y1="118.40" x2="94.75" y2="118.40" stroke="#000" stroke-width="0.92"/>
<text x="60.35" y="122.70" font-size="12.08" text-anchor="start" textLength="14.63" lengthAdjust="spacingAndGlyphs" fill="#000" stroke="#000" stroke-width="0.2" >10</text>
<text x="74.98" y="118.80" font-size="8.45" text-anchor="start" textLength="11.87" lengthAdjust="spacingAndGlyphs" fill="#000" stroke="#000" stroke-width="0.2" >−4</text>
<line x1="90.75" y1="164.80" x2="94.75" y2="164.80" stroke="#000" stroke-width="0.92"/>
<text x="60.35" y="169.10" font-size="12.08" text-anchor="start" textLength="14.63" lengthAdjust="spacingAndGlyphs" fill="#000" stroke="#000" stroke-width="0.2" >10</text>
<text x="74.98" y="165.20" font-size="8.45" text-anchor="start" textLength="11.87" lengthAdjust="spacingAndGlyphs" fill="#000" stroke="#000" stroke-width="0.2" >−6</text>
<text x="194.38" y="22.70" font-size="14.49" text-anchor="middle" textLength="133.55" lengthAdjust="spacingAndGlyphs" fill="#000" stroke="#000" stroke-width="0.2" >Spread frequencies</text>
<rect x="356.4" y="6.9" width="276.80000000000007" height="137.1" rx="2.6" ry="2.6" fill="#fff" fill-opacity="0.8" stroke="#cccccc" stroke-opacity="0.8" stroke-width="0.92"/>
<line x1="360.2" y1="15.60" x2="384.7" y2="15.60" stroke="#000000" stroke-width="1.95"/>
<circle cx="372.4" cy="15.60" r="2.45" fill="#000000"/>
<text x="393.30" y="19.80" font-size="12.08" text-anchor="start" textLength="172.00" lengthAdjust="spacingAndGlyphs" fill="#000" stroke="#000" stroke-width="0.2" >λ=0 (RAT=0.42, REL=0.0169)</text>
<line x1="360.2" y1="32.54" x2="384.7" y2="32.54" stroke="#008000" stroke-width="1.95"/>
<circle cx="372.4" cy="32.54" r="2.45" fill="#008000"/>
<text x="393.30" y="36.74" font-size="12.08" text-anchor="start" textLength="182.98" lengthAdjust="spacingAndGlyphs" fill="#000" stroke="#000" stroke-width="0.2" >λ=0.1 (RAT=0.44, REL=0.0162)</text>
<line x1="360.2" y1="49.48" x2="384.7" y2="49.48" stroke="#ffc0cb" stroke-width="1.95"/>
<circle cx="372.4" cy="49.48" r="2.45" fill="#ffc0cb"/>
<text x="393.30" y="53.68" font-size="12.08" text-anchor="start" textLength="182.98" lengthAdjust="spacingAndGlyphs" fill="#000" stroke="#000" stroke-width="0.2" >λ=0.5 (RAT=0.61, REL=0.0109)</text>
<line x1="360.2" y1="66.42" x2="384.7" y2="66.42" stroke="#00ffff" stroke-width="1.95"/>
<circle cx="372.4" cy="66.42" r="2.45" fill="#00ffff"/>
<text x="393.30" y="70.62" font-size="12.08" text-anchor="start" textLength="182.98" lengthAdjust="spacingAndGlyphs" fill="#000" stroke="#000" stroke-width="0.2" >λ=0.9 (RAT=0.83, REL=0.0055)</text>
<line x1="360.2" y1="83.36" x2="384.7" y2="83.36" stroke="#a52a2a" stroke-width="1.95"/>
<circle cx="372.4" cy="83.36" r="2.45" fill="#a52a2a"/>
<text x="393.30" y="87.56" font-size="12.08" text-anchor="start" textLength="190.29" lengthAdjust="spacingAndGlyphs" fill="#000" stroke="#000" stroke-width="0.2" >λ=0.99 (RAT=1.09, REL=0.0039)</text>
<line x1="360.2" y1="100.30" x2="384.7" y2="100.30" stroke="#ffff00" stroke-width="1.95"/>
<circle cx="372.4" cy="100.30" r="2.45" fill="#ffff00"/>
<text x="393.30" y="104.50" font-size="12.08" text-anchor="start" textLength="172.00" lengthAdjust="spacingAndGlyphs" fill="#000" stroke="#000" stroke-width="0.2" >λ=1 (RAT=3.48, REL=0.0247)</text>
<line x1="360.2" y1="117.24" x2="384.7" y2="117.24" stroke="#ff0000" stroke-width="1.95" stroke-dasharray="6.4,2.76"/>
<circle cx="372.4" cy="117.24" r="1.80" fill="none" stroke="#ff0000" stroke-width="1.3"/>
<text x="393.30" y="121.44" font-size="12.08" text-anchor="start" textLength="235.68" lengthAdjust="spacingAndGlyphs" fill="#000" stroke="#000" stroke-width="0.2" >CRPS training ((RAT=0.71, REL=0.0088))</text>
<line x1="360.2" y1="134.18" x2="384.7" y2="134.18" stroke="#0000ff" stroke-width="1.95"/>
<text x="393.30" y="138.38" font-size="12.08" text-anchor="start" textLength="42.92" lengthAdjust="spacingAndGlyphs" fill="#000" stroke="#000" stroke-width="0.2" >1:1 line</text>
<polyline points="64.45,746.25 92.50,710.00 120.55,673.75 148.60,660.00 176.65,650.50 204.70,642.00 232.75,636.25 260.80,630.00 288.85,614.50 316.90,599.25 344.95,563.20 373.00,519.80 401.05,478.50 429.10,444.80 457.15,443.70 485.20,425.70 513.25,455.10 541.30,482.70 569.35,544.20 597.40,567.70" fill="none" stroke="#000000" stroke-width="1.95" stroke-linejoin="round" stroke-linecap="butt" clip-path="url(#cbot)"/>
<circle cx="64.45" cy="746.25" r="2.45" fill="#000000" clip-path="url(#cbot)"/>
<circle cx="92.50" cy="710.00" r="2.45" fill="#000000" clip-path="url(#cbot)"/>
<circle cx="120.55" cy="673.75" r="2.45" fill="#000000" clip-path="url(#cbot)"/>
<circle cx="148.60" cy="660.00" r="2.45" fill="#000000" clip-path="url(#cbot)"/>
<circle cx="176.65" cy="650.50" r="2.45" fill="#000000" clip-path="url(#cbot)"/>
<circle cx="204.70" cy="642.00" r="2.45" fill="#000000" clip-path="url(#cbot)"/>
<circle cx="232.75" cy="636.25" r="2.45" fill="#000000" clip-path="url(#cbot)"/>
<circle cx="260.80" cy="630.00" r="2.45" fill="#000000" clip-path="url(#cbot)"/>
<circle cx="288.85" cy="614.50" r="2.45" fill="#000000" clip-path="url(#cbot)"/>
<circle cx="316.90" cy="599.25" r="2.45" fill="#000000" clip-path="url(#cbot)"/>
<circle cx="344.95" cy="563.20" r="2.45" fill="#000000" clip-path="url(#cbot)"/>
<circle cx="373.00" cy="519.80" r="2.45" fill="#000000" clip-path="url(#cbot)"/>
<circle cx="401.05" cy="478.50" r="2.45" fill="#000000" clip-path="url(#cbot)"/>
<circle cx="429.10" cy="444.80" r="2.45" fill="#000000" clip-path="url(#cbot)"/>
<circle cx="457.15" cy="443.70" r="2.45" fill="#000000" clip-path="url(#cbot)"/>
<circle cx="485.20" cy="425.70" r="2.45" fill="#000000" clip-path="url(#cbot)"/>
<circle cx="513.25" cy="455.10" r="2.45" fill="#000000" clip-path="url(#cbot)"/>
<circle cx="541.30" cy="482.70" r="2.45" fill="#000000" clip-path="url(#cbot)"/>
<circle cx="569.35" cy="544.20" r="2.45" fill="#000000" clip-path="url(#cbot)"/>
<circle cx="597.40" cy="567.70" r="2.45" fill="#000000" clip-path="url(#cbot)"/>
<polyline points="64.45,747.00 92.50,710.50 120.55,677.50 148.60,662.00 176.65,652.00 204.70,645.00 232.75,639.50 260.80,630.75 288.85,623.25 316.90,609.25 344.95,596.00 373.00,597.40 401.05,605.40 429.10,591.10 457.15,583.20 485.20,548.80 513.25,569.00 541.30,578.10 569.35,550.50 597.40,567.80" fill="none" stroke="#008000" stroke-width="1.95" stroke-linejoin="round" stroke-linecap="butt" clip-path="url(#cbot)"/>
<circle cx="64.45" cy="747.00" r="2.45" fill="#008000" clip-path="url(#cbot)"/>
<circle cx="92.50" cy="710.50" r="2.45" fill="#008000" clip-path="url(#cbot)"/>
<circle cx="120.55" cy="677.50" r="2.45" fill="#008000" clip-path="url(#cbot)"/>
<circle cx="148.60" cy="662.00" r="2.45" fill="#008000" clip-path="url(#cbot)"/>
<circle cx="176.65" cy="652.00" r="2.45" fill="#008000" clip-path="url(#cbot)"/>
<circle cx="204.70" cy="645.00" r="2.45" fill="#008000" clip-path="url(#cbot)"/>
<circle cx="232.75" cy="639.50" r="2.45" fill="#008000" clip-path="url(#cbot)"/>
<circle cx="260.80" cy="630.75" r="2.45" fill="#008000" clip-path="url(#cbot)"/>
<circle cx="288.85" cy="623.25" r="2.45" fill="#008000" clip-path="url(#cbot)"/>
<circle cx="316.90" cy="609.25" r="2.45" fill="#008000" clip-path="url(#cbot)"/>
<circle cx="344.95" cy="596.00" r="2.45" fill="#008000" clip-path="url(#cbot)"/>
<circle cx="373.00" cy="597.40" r="2.45" fill="#008000" clip-path="url(#cbot)"/>
<circle cx="401.05" cy="605.40" r="2.45" fill="#008000" clip-path="url(#cbot)"/>
<circle cx="429.10" cy="591.10" r="2.45" fill="#008000" clip-path="url(#cbot)"/>
<circle cx="457.15" cy="583.20" r="2.45" fill="#008000" clip-path="url(#cbot)"/>
<circle cx="485.20" cy="548.80" r="2.45" fill="#008000" clip-path="url(#cbot)"/>
<circle cx="513.25" cy="569.00" r="2.45" fill="#008000" clip-path="url(#cbot)"/>
<circle cx="541.30" cy="578.10" r="2.45" fill="#008000" clip-path="url(#cbot)"/>
<circle cx="569.35" cy="550.50" r="2.45" fill="#008000" clip-path="url(#cbot)"/>
<circle cx="597.40" cy="567.80" r="2.45" fill="#008000" clip-path="url(#cbot)"/>
<polyline points="64.45,750.00 92.50,725.00 120.55,696.25 148.60,680.75 176.65,670.00 204.70,663.40 232.75,657.50 260.80,649.50 288.85,636.25 316.90,623.00 344.95,612.80 373.00,603.75 401.05,595.40 429.10,588.30 457.15,587.80 485.20,575.80 513.25,560.10 541.30,559.50 569.35,540.50 597.40,551.90" fill="none" stroke="#ffc0cb" stroke-width="1.95" stroke-linejoin="round" stroke-linecap="butt" clip-path="url(#cbot)"/>
<circle cx="64.45" cy="750.00" r="2.45" fill="#ffc0cb" clip-path="url(#cbot)"/>
<circle cx="92.50" cy="725.00" r="2.45" fill="#ffc0cb" clip-path="url(#cbot)"/>
<circle cx="120.55" cy="696.25" r="2.45" fill="#ffc0cb" clip-path="url(#cbot)"/>
<circle cx="148.60" cy="680.75" r="2.45" fill="#ffc0cb" clip-path="url(#cbot)"/>
<circle cx="176.65" cy="670.00" r="2.45" fill="#ffc0cb" clip-path="url(#cbot)"/>
<circle cx="204.70" cy="663.40" r="2.45" fill="#ffc0cb" clip-path="url(#cbot)"/>
<circle cx="232.75" cy="657.50" r="2.45" fill="#ffc0cb" clip-path="url(#cbot)"/>
<circle cx="260.80" cy="649.50" r="2.45" fill="#ffc0cb" clip-path="url(#cbot)"/>
<circle cx="288.85" cy="636.25" r="2.45" fill="#ffc0cb" clip-path="url(#cbot)"/>
<circle cx="316.90" cy="623.00" r="2.45" fill="#ffc0cb" clip-path="url(#cbot)"/>
<circle cx="344.95" cy="612.80" r="2.45" fill="#ffc0cb" clip-path="url(#cbot)"/>
<circle cx="373.00" cy="603.75" r="2.45" fill="#ffc0cb" clip-path="url(#cbot)"/>
<circle cx="401.05" cy="595.40" r="2.45" fill="#ffc0cb" clip-path="url(#cbot)"/>
<circle cx="429.10" cy="588.30" r="2.45" fill="#ffc0cb" clip-path="url(#cbot)"/>
<circle cx="457.15" cy="587.80" r="2.45" fill="#ffc0cb" clip-path="url(#cbot)"/>
<circle cx="485.20" cy="575.80" r="2.45" fill="#ffc0cb" clip-path="url(#cbot)"/>
<circle cx="513.25" cy="560.10" r="2.45" fill="#ffc0cb" clip-path="url(#cbot)"/>
<circle cx="541.30" cy="559.50" r="2.45" fill="#ffc0cb" clip-path="url(#cbot)"/>
<circle cx="569.35" cy="540.50" r="2.45" fill="#ffc0cb" clip-path="url(#cbot)"/>
<circle cx="597.40" cy="551.90" r="2.45" fill="#ffc0cb" clip-path="url(#cbot)"/>
<polyline points="64.45,754.50 92.50,744.25 120.55,725.50 148.60,701.75 176.65,679.25 204.70,661.00 232.75,651.25 260.80,642.50 288.85,635.50 316.90,631.25 344.95,625.30 373.00,616.00 401.05,606.20 429.10,594.80 457.15,584.00 485.20,573.60 513.25,562.50 541.30,554.50 569.35,539.00 597.40,542.00" fill="none" stroke="#00ffff" stroke-width="1.95" stroke-linejoin="round" stroke-linecap="butt" clip-path="url(#cbot)"/>
<circle cx="64.45" cy="754.50" r="2.45" fill="#00ffff" clip-path="url(#cbot)"/>
<circle cx="92.50" cy="744.25" r="2.45" fill="#00ffff" clip-path="url(#cbot)"/>
<circle cx="120.55" cy="725.50" r="2.45" fill="#00ffff" clip-path="url(#cbot)"/>
<circle cx="148.60" cy="701.75" r="2.45" fill="#00ffff" clip-path="url(#cbot)"/>
<circle cx="176.65" cy="679.25" r="2.45" fill="#00ffff" clip-path="url(#cbot)"/>
<circle cx="204.70" cy="661.00" r="2.45" fill="#00ffff" clip-path="url(#cbot)"/>
<circle cx="232.75" cy="651.25" r="2.45" fill="#00ffff" clip-path="url(#cbot)"/>
<circle cx="260.80" cy="642.50" r="2.45" fill="#00ffff" clip-path="url(#cbot)"/>
<circle cx="288.85" cy="635.50" r="2.45" fill="#00ffff" clip-path="url(#cbot)"/>
<circle cx="316.90" cy="631.25" r="2.45" fill="#00ffff" clip-path="url(#cbot)"/>
<circle cx="344.95" cy="625.30" r="2.45" fill="#00ffff" clip-path="url(#cbot)"/>
<circle cx="373.00" cy="616.00" r="2.45" fill="#00ffff" clip-path="url(#cbot)"/>
<circle cx="401.05" cy="606.20" r="2.45" fill="#00ffff" clip-path="url(#cbot)"/>
<circle cx="429.10" cy="594.80" r="2.45" fill="#00ffff" clip-path="url(#cbot)"/>
<circle cx="457.15" cy="584.00" r="2.45" fill="#00ffff" clip-path="url(#cbot)"/>
<circle cx="485.20" cy="573.60" r="2.45" fill="#00ffff" clip-path="url(#cbot)"/>
<circle cx="513.25" cy="562.50" r="2.45" fill="#00ffff" clip-path="url(#cbot)"/>
<circle cx="541.30" cy="554.50" r="2.45" fill="#00ffff" clip-path="url(#cbot)"/>
<circle cx="569.35" cy="539.00" r="2.45" fill="#00ffff" clip-path="url(#cbot)"/>
<circle cx="597.40" cy="542.00" r="2.45" fill="#00ffff" clip-path="url(#cbot)"/>
<polyline points="64.45,756.25 92.50,750.00 120.55,740.75 148.60,727.50 176.65,713.75 204.70,699.50 232.75,684.50 260.80,672.00 288.85,664.25 316.90,657.00 344.95,649.80 373.00,643.40 401.05,637.50 429.10,631.60 457.15,627.00 485.20,622.80 513.25,618.80 541.30,615.60 569.35,614.20 597.40,612.80" fill="none" stroke="#a52a2a" stroke-width="1.95" stroke-linejoin="round" stroke-linecap="butt" clip-path="url(#cbot)"/>
<circle cx="64.45" cy="756.25" r="2.45" fill="#a52a2a" clip-path="url(#cbot)"/>
<circle cx="92.50" cy="750.00" r="2.45" fill="#a52a2a" clip-path="url(#cbot)"/>
<circle cx="120.55" cy="740.75" r="2.45" fill="#a52a2a" clip-path="url(#cbot)"/>
<circle cx="148.60" cy="727.50" r="2.45" fill="#a52a2a" clip-path="url(#cbot)"/>
<circle cx="176.65" cy="713.75" r="2.45" fill="#a52a2a" clip-path="url(#cbot)"/>
<circle cx="204.70" cy="699.50" r="2.45" fill="#a52a2a" clip-path="url(#cbot)"/>
<circle cx="232.75" cy="684.50" r="2.45" fill="#a52a2a" clip-path="url(#cbot)"/>
<circle cx="260.80" cy="672.00" r="2.45" fill="#a52a2a" clip-path="url(#cbot)"/>
<circle cx="288.85" cy="664.25" r="2.45" fill="#a52a2a" clip-path="url(#cbot)"/>
<circle cx="316.90" cy="657.00" r="2.45" fill="#a52a2a" clip-path="url(#cbot)"/>
<circle cx="344.95" cy="649.80" r="2.45" fill="#a52a2a" clip-path="url(#cbot)"/>
<circle cx="373.00" cy="643.40" r="2.45" fill="#a52a2a" clip-path="url(#cbot)"/>
<circle cx="401.05" cy="637.50" r="2.45" fill="#a52a2a" clip-path="url(#cbot)"/>
<circle cx="429.10" cy="631.60" r="2.45" fill="#a52a2a" clip-path="url(#cbot)"/>
<circle cx="457.15" cy="627.00" r="2.45" fill="#a52a2a" clip-path="url(#cbot)"/>
<circle cx="485.20" cy="622.80" r="2.45" fill="#a52a2a" clip-path="url(#cbot)"/>
<circle cx="513.25" cy="618.80" r="2.45" fill="#a52a2a" clip-path="url(#cbot)"/>
<circle cx="541.30" cy="615.60" r="2.45" fill="#a52a2a" clip-path="url(#cbot)"/>
<circle cx="569.35" cy="614.20" r="2.45" fill="#a52a2a" clip-path="url(#cbot)"/>
<circle cx="597.40" cy="612.80" r="2.45" fill="#a52a2a" clip-path="url(#cbot)"/>
<polyline points="64.45,761.25 92.50,752.50 120.55,748.75 148.60,745.50 176.65,741.75 204.70,737.80 232.75,732.50 260.80,725.50 288.85,718.00 316.90,711.25 344.95,705.50 373.00,700.00 401.05,695.00 429.10,691.40 457.15,688.60 485.20,686.00 513.25,684.00 541.30,682.00 569.35,680.00 597.40,678.00" fill="none" stroke="#ffff00" stroke-width="1.95" stroke-linejoin="round" stroke-linecap="butt" clip-path="url(#cbot)"/>
<circle cx="64.45" cy="761.25" r="2.45" fill="#ffff00" clip-path="url(#cbot)"/>
<circle cx="92.50" cy="752.50" r="2.45" fill="#ffff00" clip-path="url(#cbot)"/>
<circle cx="120.55" cy="748.75" r="2.45" fill="#ffff00" clip-path="url(#cbot)"/>
<circle cx="148.60" cy="745.50" r="2.45" fill="#ffff00" clip-path="url(#cbot)"/>
<circle cx="176.65" cy="741.75" r="2.45" fill="#ffff00" clip-path="url(#cbot)"/>
<circle cx="204.70" cy="737.80" r="2.45" fill="#ffff00" clip-path="url(#cbot)"/>
<circle cx="232.75" cy="732.50" r="2.45" fill="#ffff00" clip-path="url(#cbot)"/>
<circle cx="260.80" cy="725.50" r="2.45" fill="#ffff00" clip-path="url(#cbot)"/>
<circle cx="288.85" cy="718.00" r="2.45" fill="#ffff00" clip-path="url(#cbot)"/>
<circle cx="316.90" cy="711.25" r="2.45" fill="#ffff00" clip-path="url(#cbot)"/>
<circle cx="344.95" cy="705.50" r="2.45" fill="#ffff00" clip-path="url(#cbot)"/>
<circle cx="373.00" cy="700.00" r="2.45" fill="#ffff00" clip-path="url(#cbot)"/>
<circle cx="401.05" cy="695.00" r="2.45" fill="#ffff00" clip-path="url(#cbot)"/>
<circle cx="429.10" cy="691.40" r="2.45" fill="#ffff00" clip-path="url(#cbot)"/>
<circle cx="457.15" cy="688.60" r="2.45" fill="#ffff00" clip-path="url(#cbot)"/>
<circle cx="485.20" cy="686.00" r="2.45" fill="#ffff00" clip-path="url(#cbot)"/>
<circle cx="513.25" cy="684.00" r="2.45" fill="#ffff00" clip-path="url(#cbot)"/>
<circle cx="541.30" cy="682.00" r="2.45" fill="#ffff00" clip-path="url(#cbot)"/>
<circle cx="569.35" cy="680.00" r="2.45" fill="#ffff00" clip-path="url(#cbot)"/>
<circle cx="597.40" cy="678.00" r="2.45" fill="#ffff00" clip-path="url(#cbot)"/>
<polyline points="64.45,752.50 92.50,740.00 120.55,715.00 148.60,695.00 176.65,672.50 204.70,655.50 232.75,648.75 260.80,643.25 288.85,637.50 316.90,632.50 344.95,627.50 373.00,618.80 401.05,608.80 429.10,596.80 457.15,584.50 485.20,580.50 513.25,575.00 541.30,566.40 569.35,567.70 597.40,585.20" fill="none" stroke="#ff0000" stroke-width="1.95" stroke-linejoin="round" stroke-linecap="butt" stroke-dasharray="6.4,2.76" clip-path="url(#cbot)"/>
<circle cx="64.45" cy="752.50" r="1.80" fill="none" stroke="#ff0000" stroke-width="1.3" clip-path="url(#cbot)"/>
<circle cx="92.50" cy="740.00" r="1.80" fill="none" stroke="#ff0000" stroke-width="1.3" clip-path="url(#cbot)"/>
<circle cx="120.55" cy="715.00" r="1.80" fill="none" stroke="#ff0000" stroke-width="1.3" clip-path="url(#cbot)"/>
<circle cx="148.60" cy="695.00" r="1.80" fill="none" stroke="#ff0000" stroke-width="1.3" clip-path="url(#cbot)"/>
<circle cx="176.65" cy="672.50" r="1.80" fill="none" stroke="#ff0000" stroke-width="1.3" clip-path="url(#cbot)"/>
<circle cx="204.70" cy="655.50" r="1.80" fill="none" stroke="#ff0000" stroke-width="1.3" clip-path="url(#cbot)"/>
<circle cx="232.75" cy="648.75" r="1.80" fill="none" stroke="#ff0000" stroke-width="1.3" clip-path="url(#cbot)"/>
<circle cx="260.80" cy="643.25" r="1.80" fill="none" stroke="#ff0000" stroke-width="1.3" clip-path="url(#cbot)"/>
<circle cx="288.85" cy="637.50" r="1.80" fill="none" stroke="#ff0000" stroke-width="1.3" clip-path="url(#cbot)"/>
<circle cx="316.90" cy="632.50" r="1.80" fill="none" stroke="#ff0000" stroke-width="1.3" clip-path="url(#cbot)"/>
<circle cx="344.95" cy="627.50" r="1.80" fill="none" stroke="#ff0000" stroke-width="1.3" clip-path="url(#cbot)"/>
<circle cx="373.00" cy="618.80" r="1.80" fill="none" stroke="#ff0000" stroke-width="1.3" clip-path="url(#cbot)"/>
<circle cx="401.05" cy="608.80" r="1.80" fill="none" stroke="#ff0000" stroke-width="1.3" clip-path="url(#cbot)"/>
<circle cx="429.10" cy="596.80" r="1.80" fill="none" stroke="#ff0000" stroke-width="1.3" clip-path="url(#cbot)"/>
<circle cx="457.15" cy="584.50" r="1.80" fill="none" stroke="#ff0000" stroke-width="1.3" clip-path="url(#cbot)"/>
<circle cx="485.20" cy="580.50" r="1.80" fill="none" stroke="#ff0000" stroke-width="1.3" clip-path="url(#cbot)"/>
<circle cx="513.25" cy="575.00" r="1.80" fill="none" stroke="#ff0000" stroke-width="1.3" clip-path="url(#cbot)"/>
<circle cx="541.30" cy="566.40" r="1.80" fill="none" stroke="#ff0000" stroke-width="1.3" clip-path="url(#cbot)"/>
<circle cx="569.35" cy="567.70" r="1.80" fill="none" stroke="#ff0000" stroke-width="1.3" clip-path="url(#cbot)"/>
<circle cx="597.40" cy="585.20" r="1.80" fill="none" stroke="#ff0000" stroke-width="1.3" clip-path="url(#cbot)"/>
<line x1="50.6" y1="769.8" x2="612" y2="602.7" stroke="#0000ff" stroke-width="1.95" clip-path="url(#cbot)"/>
<rect x="50.6" y="408.5" width="588.8" height="361.29999999999995" fill="none" stroke="#000" stroke-width="0.92"/>
<line x1="50.60" y1="769.8" x2="50.60" y2="773.8" stroke="#000" stroke-width="0.92"/>
<text x="50.60" y="787.00" font-size="12.08" text-anchor="middle" textLength="32.92" lengthAdjust="spacingAndGlyphs" fill="#000" stroke="#000" stroke-width="0.2" >0.000</text>
<line x1="129.70" y1="769.8" x2="129.70" y2="773.8" stroke="#000" stroke-width="0.92"/>
<text x="129.70" y="787.00" font-size="12.08" text-anchor="middle" textLength="32.92" lengthAdjust="spacingAndGlyphs" fill="#000" stroke="#000" stroke-width="0.2" >0.025</text>
<line x1="208.80" y1="769.8" x2="208.80" y2="773.8" stroke="#000" stroke-width="0.92"/>
<text x="208.80" y="787.00" font-size="12.08" text-anchor="middle" textLength="32.92" lengthAdjust="spacingAndGlyphs" fill="#000" stroke="#000" stroke-width="0.2" >0.050</text>
<line x1="287.90" y1="769.8" x2="287.90" y2="773.8" stroke="#000" stroke-width="0.92"/>
<text x="287.90" y="787.00" font-size="12.08" text-anchor="middle" textLength="32.92" lengthAdjust="spacingAndGlyphs" fill="#000" stroke="#000" stroke-width="0.2" >0.075</text>
<line x1="367.00" y1="769.8" x2="367.00" y2="773.8" stroke="#000" stroke-width="0.92"/>
<text x="367.00" y="787.00" font-size="12.08" text-anchor="middle" textLength="32.92" lengthAdjust="spacingAndGlyphs" fill="#000" stroke="#000" stroke-width="0.2" >0.100</text>
<line x1="446.10" y1="769.8" x2="446.10" y2="773.8" stroke="#000" stroke-width="0.92"/>
<text x="446.10" y="787.00" font-size="12.08" text-anchor="middle" textLength="32.92" lengthAdjust="spacingAndGlyphs" fill="#000" stroke="#000" stroke-width="0.2" >0.125</text>
<line x1="525.20" y1="769.8" x2="525.20" y2="773.8" stroke="#000" stroke-width="0.92"/>
<text x="525.20" y="787.00" font-size="12.08" text-anchor="middle" textLength="32.92" lengthAdjust="spacingAndGlyphs" fill="#000" stroke="#000" stroke-width="0.2" >0.150</text>
<line x1="604.30" y1="769.8" x2="604.30" y2="773.8" stroke="#000" stroke-width="0.92"/>
<text x="604.30" y="787.00" font-size="12.08" text-anchor="middle" textLength="32.92" lengthAdjust="spacingAndGlyphs" fill="#000" stroke="#000" stroke-width="0.2" >0.175</text>
<line x1="46.6" y1="769.80" x2="50.6" y2="769.80" stroke="#000" stroke-width="0.92"/>
<text x="42.70" y="774.10" font-size="12.08" text-anchor="end" textLength="25.61" lengthAdjust="spacingAndGlyphs" fill="#000" stroke="#000" stroke-width="0.2" >0.00</text>
<line x1="46.6" y1="722.70" x2="50.6" y2="722.70" stroke="#000" stroke-width="0.92"/>
<text x="42.70" y="727.00" font-size="12.08" text-anchor="end" textLength="25.61" lengthAdjust="spacingAndGlyphs" fill="#000" stroke="#000" stroke-width="0.2" >0.05</text>
<line x1="46.6" y1="675.60" x2="50.6" y2="675.60" stroke="#000" stroke-width="0.92"/>
<text x="42.70" y="679.90" font-size="12.08" text-anchor="end" textLength="25.61" lengthAdjust="spacingAndGlyphs" fill="#000" stroke="#000" stroke-width="0.2" >0.10</text>
<line x1="46.6" y1="628.50" x2="50.6" y2="628.50" stroke="#000" stroke-width="0.92"/>
<text x="42.70" y="632.80" font-size="12.08" text-anchor="end" textLength="25.61" lengthAdjust="spacingAndGlyphs" fill="#000" stroke="#000" stroke-width="0.2" >0.15</text>
<line x1="46.6" y1="581.40" x2="50.6" y2="581.40" stroke="#000" stroke-width="0.92"/>
<text x="42.70" y="585.70" font-size="12.08" text-anchor="end" textLength="25.61" lengthAdjust="spacingAndGlyphs" fill="#000" stroke="#000" stroke-width="0.2" >0.20</text>
<line x1="46.6" y1="534.30" x2="50.6" y2="534.30" stroke="#000" stroke-width="0.92"/>
<text x="42.70" y="538.60" font-size="12.08" text-anchor="end" textLength="25.61" lengthAdjust="spacingAndGlyphs" fill="#000" stroke="#000" stroke-width="0.2" >0.25</text>
<line x1="46.6" y1="487.20" x2="50.6" y2="487.20" stroke="#000" stroke-width="0.92"/>
<text x="42.70" y="491.50" font-size="12.08" text-anchor="end" textLength="25.61" lengthAdjust="spacingAndGlyphs" fill="#000" stroke="#000" stroke-width="0.2" >0.30</text>
<line x1="46.6" y1="440.10" x2="50.6" y2="440.10" stroke="#000" stroke-width="0.92"/>
<text x="42.70" y="444.40" font-size="12.08" text-anchor="end" textLength="25.61" lengthAdjust="spacingAndGlyphs" fill="#000" stroke="#000" stroke-width="0.2" >0.35</text>
<text x="345.00" y="801.70" font-size="12.08" text-anchor="middle" textLength="40.50" lengthAdjust="spacingAndGlyphs" fill="#000" stroke="#000" stroke-width="0.2" >Spread</text>
<text x="0.00" y="0.00" font-size="12.08" text-anchor="middle" textLength="23.54" lengthAdjust="spacingAndGlyphs" fill="#000" stroke="#000" stroke-width="0.2" transform="translate(10.0,589.7) rotate(-90)">Skill</text>
<rect x="94.75" y="436.0" width="199.0" height="165.5" fill="#fff"/>
<polyline points="104.20,443.00 113.70,445.40 123.21,454.00 132.72,461.00 142.22,468.80 151.73,477.40 161.23,485.20 170.74,491.90 180.24,498.50 189.75,504.90 199.25,511.40 208.75,516.70 218.26,522.20 227.77,527.80 237.27,533.80 246.78,545.00 256.28,556.10 265.79,568.80 275.29,583.70 284.80,593.70" fill="none" stroke="#000000" stroke-width="1.95" stroke-linejoin="round" stroke-linecap="butt" clip-path="url(#cbi)"/>
<circle cx="104.20" cy="443.00" r="2.45" fill="#000000" clip-path="url(#cbi)"/>
<circle cx="113.70" cy="445.40" r="2.45" fill="#000000" clip-path="url(#cbi)"/>
<circle cx="123.21" cy="454.00" r="2.45" fill="#000000" clip-path="url(#cbi)"/>
<circle cx="132.72" cy="461.00" r="2.45" fill="#000000" clip-path="url(#cbi)"/>
<circle cx="142.22" cy="468.80" r="2.45" fill="#000000" clip-path="url(#cbi)"/>
<circle cx="151.73" cy="477.40" r="2.45" fill="#000000" clip-path="url(#cbi)"/>
<circle cx="161.23" cy="485.20" r="2.45" fill="#000000" clip-path="url(#cbi)"/>
<circle cx="170.74" cy="491.90" r="2.45" fill="#000000" clip-path="url(#cbi)"/>
<circle cx="180.24" cy="498.50" r="2.45" fill="#000000" clip-path="url(#cbi)"/>
<circle cx="189.75" cy="504.90" r="2.45" fill="#000000" clip-path="url(#cbi)"/>
<circle cx="199.25" cy="511.40" r="2.45" fill="#000000" clip-path="url(#cbi)"/>
<circle cx="208.75" cy="516.70" r="2.45" fill="#000000" clip-path="url(#cbi)"/>
<circle cx="218.26" cy="522.20" r="2.45" fill="#000000" clip-path="url(#cbi)"/>
<circle cx="227.77" cy="527.80" r="2.45" fill="#000000" clip-path="url(#cbi)"/>
<circle cx="237.27" cy="533.80" r="2.45" fill="#000000" clip-path="url(#cbi)"/>
<circle cx="246.78" cy="545.00" r="2.45" fill="#000000" clip-path="url(#cbi)"/>
<circle cx="256.28" cy="556.10" r="2.45" fill="#000000" clip-path="url(#cbi)"/>
<circle cx="265.79" cy="568.80" r="2.45" fill="#000000" clip-path="url(#cbi)"/>
<circle cx="275.29" cy="583.70" r="2.45" fill="#000000" clip-path="url(#cbi)"/>
<circle cx="284.80" cy="593.70" r="2.45" fill="#000000" clip-path="url(#cbi)"/>
<polyline points="104.20,443.00 113.70,444.60 123.21,453.10 132.72,460.20 142.22,468.00 151.73,474.30 161.23,481.60 170.74,489.10 180.24,496.20 189.75,504.00 199.25,511.10 208.75,518.90 218.26,526.70 227.77,534.20 237.27,541.20 246.78,549.60 256.28,557.10 265.79,566.40 275.29,580.30 284.80,589.30" fill="none" stroke="#008000" stroke-width="1.95" stroke-linejoin="round" stroke-linecap="butt" clip-path="url(#cbi)"/>
<circle cx="104.20" cy="443.00" r="2.45" fill="#008000" clip-path="url(#cbi)"/>
<circle cx="113.70" cy="444.60" r="2.45" fill="#008000" clip-path="url(#cbi)"/>
<circle cx="123.21" cy="453.10" r="2.45" fill="#008000" clip-path="url(#cbi)"/>
<circle cx="132.72" cy="460.20" r="2.45" fill="#008000" clip-path="url(#cbi)"/>
<circle cx="142.22" cy="468.00" r="2.45" fill="#008000" clip-path="url(#cbi)"/>
<circle cx="151.73" cy="474.30" r="2.45" fill="#008000" clip-path="url(#cbi)"/>
<circle cx="161.23" cy="481.60" r="2.45" fill="#008000" clip-path="url(#cbi)"/>
<circle cx="170.74" cy="489.10" r="2.45" fill="#008000" clip-path="url(#cbi)"/>
<circle cx="180.24" cy="496.20" r="2.45" fill="#008000" clip-path="url(#cbi)"/>
<circle cx="189.75" cy="504.00" r="2.45" fill="#008000" clip-path="url(#cbi)"/>
<circle cx="199.25" cy="511.10" r="2.45" fill="#008000" clip-path="url(#cbi)"/>
<circle cx="208.75" cy="518.90" r="2.45" fill="#008000" clip-path="url(#cbi)"/>
<circle cx="218.26" cy="526.70" r="2.45" fill="#008000" clip-path="url(#cbi)"/>
<circle cx="227.77" cy="534.20" r="2.45" fill="#008000" clip-path="url(#cbi)"/>
<circle cx="237.27" cy="541.20" r="2.45" fill="#008000" clip-path="url(#cbi)"/>
<circle cx="246.78" cy="549.60" r="2.45" fill="#008000" clip-path="url(#cbi)"/>
<circle cx="256.28" cy="557.10" r="2.45" fill="#008000" clip-path="url(#cbi)"/>
<circle cx="265.79" cy="566.40" r="2.45" fill="#008000" clip-path="url(#cbi)"/>
<circle cx="275.29" cy="580.30" r="2.45" fill="#008000" clip-path="url(#cbi)"/>
<circle cx="284.80" cy="589.30" r="2.45" fill="#008000" clip-path="url(#cbi)"/>
<polyline points="104.20,446.20 113.70,449.00 123.21,454.00 132.72,458.50 142.22,464.50 151.73,469.50 161.23,475.30 170.74,481.50 180.24,487.80 189.75,493.80 199.25,499.90 208.75,505.50 218.26,511.40 227.77,518.00 237.27,524.50 246.78,531.00 256.28,537.50 265.79,545.90 275.29,553.30 284.80,562.60" fill="none" stroke="#ffc0cb" stroke-width="1.95" stroke-linejoin="round" stroke-linecap="butt" clip-path="url(#cbi)"/>
<circle cx="104.20" cy="446.20" r="2.45" fill="#ffc0cb" clip-path="url(#cbi)"/>
<circle cx="113.70" cy="449.00" r="2.45" fill="#ffc0cb" clip-path="url(#cbi)"/>
<circle cx="123.21" cy="454.00" r="2.45" fill="#ffc0cb" clip-path="url(#cbi)"/>
<circle cx="132.72" cy="458.50" r="2.45" fill="#ffc0cb" clip-path="url(#cbi)"/>
<circle cx="142.22" cy="464.50" r="2.45" fill="#ffc0cb" clip-path="url(#cbi)"/>
<circle cx="151.73" cy="469.50" r="2.45" fill="#ffc0cb" clip-path="url(#cbi)"/>
<circle cx="161.23" cy="475.30" r="2.45" fill="#ffc0cb" clip-path="url(#cbi)"/>
<circle cx="170.74" cy="481.50" r="2.45" fill="#ffc0cb" clip-path="url(#cbi)"/>
<circle cx="180.24" cy="487.80" r="2.45" fill="#ffc0cb" clip-path="url(#cbi)"/>
<circle cx="189.75" cy="493.80" r="2.45" fill="#ffc0cb" clip-path="url(#cbi)"/>
<circle cx="199.25" cy="499.90" r="2.45" fill="#ffc0cb" clip-path="url(#cbi)"/>
<circle cx="208.75" cy="505.50" r="2.45" fill="#ffc0cb" clip-path="url(#cbi)"/>
<circle cx="218.26" cy="511.40" r="2.45" fill="#ffc0cb" clip-path="url(#cbi)"/>
<circle cx="227.77" cy="518.00" r="2.45" fill="#ffc0cb" clip-path="url(#cbi)"/>
<circle cx="237.27" cy="524.50" r="2.45" fill="#ffc0cb" clip-path="url(#cbi)"/>
<circle cx="246.78" cy="531.00" r="2.45" fill="#ffc0cb" clip-path="url(#cbi)"/>
<circle cx="256.28" cy="537.50" r="2.45" fill="#ffc0cb" clip-path="url(#cbi)"/>
<circle cx="265.79" cy="545.90" r="2.45" fill="#ffc0cb" clip-path="url(#cbi)"/>
<circle cx="275.29" cy="553.30" r="2.45" fill="#ffc0cb" clip-path="url(#cbi)"/>
<circle cx="284.80" cy="562.60" r="2.45" fill="#ffc0cb" clip-path="url(#cbi)"/>
<polyline points="104.20,453.20 113.70,447.80 123.21,453.10 132.72,457.10 142.22,460.30 151.73,463.40 161.23,466.80 170.74,470.50 180.24,474.80 189.75,478.90 199.25,483.50 208.75,487.20 218.26,492.40 227.77,497.50 237.27,502.50 246.78,507.70 256.28,513.30 265.79,518.90 275.29,525.40 284.80,532.90" fill="none" stroke="#00ffff" stroke-width="1.95" stroke-linejoin="round" stroke-linecap="butt" clip-path="url(#cbi)"/>
<circle cx="104.20" cy="453.20" r="2.45" fill="#00ffff" clip-path="url(#cbi)"/>
<circle cx="113.70" cy="447.80" r="2.45" fill="#00ffff" clip-path="url(#cbi)"/>
<circle cx="123.21" cy="453.10" r="2.45" fill="#00ffff" clip-path="url(#cbi)"/>
<circle cx="132.72" cy="457.10" r="2.45" fill="#00ffff" clip-path="url(#cbi)"/>
<circle cx="142.22" cy="460.30" r="2.45" fill="#00ffff" clip-path="url(#cbi)"/>
<circle cx="151.73" cy="463.40" r="2.45" fill="#00ffff" clip-path="url(#cbi)"/>
<circle cx="161.23" cy="466.80" r="2.45" fill="#00ffff" clip-path="url(#cbi)"/>
<circle cx="170.74" cy="470.50" r="2.45" fill="#00ffff" clip-path="url(#cbi)"/>
<circle cx="180.24" cy="474.80" r="2.45" fill="#00ffff" clip-path="url(#cbi)"/>
<circle cx="189.75" cy="478.90" r="2.45" fill="#00ffff" clip-path="url(#cbi)"/>
<circle cx="199.25" cy="483.50" r="2.45" fill="#00ffff" clip-path="url(#cbi)"/>
<circle cx="208.75" cy="487.20" r="2.45" fill="#00ffff" clip-path="url(#cbi)"/>
<circle cx="218.26" cy="492.40" r="2.45" fill="#00ffff" clip-path="url(#cbi)"/>
<circle cx="227.77" cy="497.50" r="2.45" fill="#00ffff" clip-path="url(#cbi)"/>
<circle cx="237.27" cy="502.50" r="2.45" fill="#00ffff" clip-path="url(#cbi)"/>
<circle cx="246.78" cy="507.70" r="2.45" fill="#00ffff" clip-path="url(#cbi)"/>
<circle cx="256.28" cy="513.30" r="2.45" fill="#00ffff" clip-path="url(#cbi)"/>
<circle cx="265.79" cy="518.90" r="2.45" fill="#00ffff" clip-path="url(#cbi)"/>
<circle cx="275.29" cy="525.40" r="2.45" fill="#00ffff" clip-path="url(#cbi)"/>
<circle cx="284.80" cy="532.90" r="2.45" fill="#00ffff" clip-path="url(#cbi)"/>
<polyline points="104.20,464.10 113.70,451.60 123.21,454.50 132.72,457.50 142.22,458.80 151.73,460.60 161.23,463.00 170.74,465.00 180.24,466.90 189.75,469.40 199.25,472.80 208.75,475.10 218.26,477.60 227.77,479.40 237.27,481.70 246.78,483.90 256.28,486.30 265.79,488.70 275.29,491.30 284.80,494.70" fill="none" stroke="#a52a2a" stroke-width="1.95" stroke-linejoin="round" stroke-linecap="butt" clip-path="url(#cbi)"/>
<circle cx="104.20" cy="464.10" r="2.45" fill="#a52a2a" clip-path="url(#cbi)"/>
<circle cx="113.70" cy="451.60" r="2.45" fill="#a52a2a" clip-path="url(#cbi)"/>
<circle cx="123.21" cy="454.50" r="2.45" fill="#a52a2a" clip-path="url(#cbi)"/>
<circle cx="132.72" cy="457.50" r="2.45" fill="#a52a2a" clip-path="url(#cbi)"/>
<circle cx="142.22" cy="458.80" r="2.45" fill="#a52a2a" clip-path="url(#cbi)"/>
<circle cx="151.73" cy="460.60" r="2.45" fill="#a52a2a" clip-path="url(#cbi)"/>
<circle cx="161.23" cy="463.00" r="2.45" fill="#a52a2a" clip-path="url(#cbi)"/>
<circle cx="170.74" cy="465.00" r="2.45" fill="#a52a2a" clip-path="url(#cbi)"/>
<circle cx="180.24" cy="466.90" r="2.45" fill="#a52a2a" clip-path="url(#cbi)"/>
<circle cx="189.75" cy="469.40" r="2.45" fill="#a52a2a" clip-path="url(#cbi)"/>
<circle cx="199.25" cy="472.80" r="2.45" fill="#a52a2a" clip-path="url(#cbi)"/>
<circle cx="208.75" cy="475.10" r="2.45" fill="#a52a2a" clip-path="url(#cbi)"/>
<circle cx="218.26" cy="477.60" r="2.45" fill="#a52a2a" clip-path="url(#cbi)"/>
<circle cx="227.77" cy="479.40" r="2.45" fill="#a52a2a" clip-path="url(#cbi)"/>
<circle cx="237.27" cy="481.70" r="2.45" fill="#a52a2a" clip-path="url(#cbi)"/>
<circle cx="246.78" cy="483.90" r="2.45" fill="#a52a2a" clip-path="url(#cbi)"/>
<circle cx="256.28" cy="486.30" r="2.45" fill="#a52a2a" clip-path="url(#cbi)"/>
<circle cx="265.79" cy="488.70" r="2.45" fill="#a52a2a" clip-path="url(#cbi)"/>
<circle cx="275.29" cy="491.30" r="2.45" fill="#a52a2a" clip-path="url(#cbi)"/>
<circle cx="284.80" cy="494.70" r="2.45" fill="#a52a2a" clip-path="url(#cbi)"/>
<polyline points="104.20,476.60 113.70,460.20 123.21,459.40 132.72,460.20 142.22,461.80 151.73,463.80 161.23,465.40 170.74,466.90 180.24,468.80 189.75,470.50 199.25,472.00 208.75,472.70 218.26,473.30 227.77,473.80 237.27,474.20 246.78,474.80 256.28,475.10 265.79,475.70 275.29,476.10 284.80,477.00" fill="none" stroke="#ffff00" stroke-width="1.95" stroke-linejoin="round" stroke-linecap="butt" clip-path="url(#cbi)"/>
<circle cx="104.20" cy="476.60" r="2.45" fill="#ffff00" clip-path="url(#cbi)"/>
<circle cx="113.70" cy="460.20" r="2.45" fill="#ffff00" clip-path="url(#cbi)"/>
<circle cx="123.21" cy="459.40" r="2.45" fill="#ffff00" clip-path="url(#cbi)"/>
<circle cx="132.72" cy="460.20" r="2.45" fill="#ffff00" clip-path="url(#cbi)"/>
<circle cx="142.22" cy="461.80" r="2.45" fill="#ffff00" clip-path="url(#cbi)"/>
<circle cx="151.73" cy="463.80" r="2.45" fill="#ffff00" clip-path="url(#cbi)"/>
<circle cx="161.23" cy="465.40" r="2.45" fill="#ffff00" clip-path="url(#cbi)"/>
<circle cx="170.74" cy="466.90" r="2.45" fill="#ffff00" clip-path="url(#cbi)"/>
<circle cx="180.24" cy="468.80" r="2.45" fill="#ffff00" clip-path="url(#cbi)"/>
<circle cx="189.75" cy="470.50" r="2.45" fill="#ffff00" clip-path="url(#cbi)"/>
<circle cx="199.25" cy="472.00" r="2.45" fill="#ffff00" clip-path="url(#cbi)"/>
<circle cx="208.75" cy="472.70" r="2.45" fill="#ffff00" clip-path="url(#cbi)"/>
<circle cx="218.26" cy="473.30" r="2.45" fill="#ffff00" clip-path="url(#cbi)"/>
<circle cx="227.77" cy="473.80" r="2.45" fill="#ffff00" clip-path="url(#cbi)"/>
<circle cx="237.27" cy="474.20" r="2.45" fill="#ffff00" clip-path="url(#cbi)"/>
<circle cx="246.78" cy="474.80" r="2.45" fill="#ffff00" clip-path="url(#cbi)"/>
<circle cx="256.28" cy="475.10" r="2.45" fill="#ffff00" clip-path="url(#cbi)"/>
<circle cx="265.79" cy="475.70" r="2.45" fill="#ffff00" clip-path="url(#cbi)"/>
<circle cx="275.29" cy="476.10" r="2.45" fill="#ffff00" clip-path="url(#cbi)"/>
<circle cx="284.80" cy="477.00" r="2.45" fill="#ffff00" clip-path="url(#cbi)"/>
<polyline points="104.20,449.75 113.70,447.70 123.21,453.20 132.72,456.30 142.22,460.20 151.73,464.10 161.23,468.80 170.74,473.50 180.24,477.90 189.75,482.60 199.25,486.90 208.75,491.90 218.26,497.50 227.77,504.00 237.27,510.50 246.78,518.50 256.28,527.30 265.79,536.00 275.29,546.40 284.80,555.20" fill="none" stroke="#ff0000" stroke-width="1.95" stroke-linejoin="round" stroke-linecap="butt" stroke-dasharray="6.4,2.76" clip-path="url(#cbi)"/>
<circle cx="104.20" cy="449.75" r="1.80" fill="none" stroke="#ff0000" stroke-width="1.3" clip-path="url(#cbi)"/>
<circle cx="113.70" cy="447.70" r="1.80" fill="none" stroke="#ff0000" stroke-width="1.3" clip-path="url(#cbi)"/>
<circle cx="123.21" cy="453.20" r="1.80" fill="none" stroke="#ff0000" stroke-width="1.3" clip-path="url(#cbi)"/>
<circle cx="132.72" cy="456.30" r="1.80" fill="none" stroke="#ff0000" stroke-width="1.3" clip-path="url(#cbi)"/>
<circle cx="142.22" cy="460.20" r="1.80" fill="none" stroke="#ff0000" stroke-width="1.3" clip-path="url(#cbi)"/>
<circle cx="151.73" cy="464.10" r="1.80" fill="none" stroke="#ff0000" stroke-width="1.3" clip-path="url(#cbi)"/>
<circle cx="161.23" cy="468.80" r="1.80" fill="none" stroke="#ff0000" stroke-width="1.3" clip-path="url(#cbi)"/>
<circle cx="170.74" cy="473.50" r="1.80" fill="none" stroke="#ff0000" stroke-width="1.3" clip-path="url(#cbi)"/>
<circle cx="180.24" cy="477.90" r="1.80" fill="none" stroke="#ff0000" stroke-width="1.3" clip-path="url(#cbi)"/>
<circle cx="189.75" cy="482.60" r="1.80" fill="none" stroke="#ff0000" stroke-width="1.3" clip-path="url(#cbi)"/>
<circle cx="199.25" cy="486.90" r="1.80" fill="none" stroke="#ff0000" stroke-width="1.3" clip-path="url(#cbi)"/>
<circle cx="208.75" cy="491.90" r="1.80" fill="none" stroke="#ff0000" stroke-width="1.3" clip-path="url(#cbi)"/>
<circle cx="218.26" cy="497.50" r="1.80" fill="none" stroke="#ff0000" stroke-width="1.3" clip-path="url(#cbi)"/>
<circle cx="227.77" cy="504.00" r="1.80" fill="none" stroke="#ff0000" stroke-width="1.3" clip-path="url(#cbi)"/>
<circle cx="237.27" cy="510.50" r="1.80" fill="none" stroke="#ff0000" stroke-width="1.3" clip-path="url(#cbi)"/>
<circle cx="246.78" cy="518.50" r="1.80" fill="none" stroke="#ff0000" stroke-width="1.3" clip-path="url(#cbi)"/>
<circle cx="256.28" cy="527.30" r="1.80" fill="none" stroke="#ff0000" stroke-width="1.3" clip-path="url(#cbi)"/>
<circle cx="265.79" cy="536.00" r="1.80" fill="none" stroke="#ff0000" stroke-width="1.3" clip-path="url(#cbi)"/>
<circle cx="275.29" cy="546.40" r="1.80" fill="none" stroke="#ff0000" stroke-width="1.3" clip-path="url(#cbi)"/>
<circle cx="284.80" cy="555.20" r="1.80" fill="none" stroke="#ff0000" stroke-width="1.3" clip-path="url(#cbi)"/>
<rect x="94.75" y="436.0" width="199.0" height="165.5" fill="none" stroke="#000" stroke-width="0.92"/>
<line x1="99.10" y1="601.5" x2="99.10" y2="605.5" stroke="#000" stroke-width="0.92"/>
<text x="99.10" y="618.70" font-size="12.08" text-anchor="middle" textLength="25.61" lengthAdjust="spacingAndGlyphs" fill="#000" stroke="#000" stroke-width="0.2" >0.00</text>
<line x1="152.65" y1="601.5" x2="152.65" y2="605.5" stroke="#000" stroke-width="0.92"/>
<text x="152.65" y="618.70" font-size="12.08" text-anchor="middle" textLength="25.61" lengthAdjust="spacingAndGlyphs" fill="#000" stroke="#000" stroke-width="0.2" >0.05</text>
<line x1="206.20" y1="601.5" x2="206.20" y2="605.5" stroke="#000" stroke-width="0.92"/>
<text x="206.20" y="618.70" font-size="12.08" text-anchor="middle" textLength="25.61" lengthAdjust="spacingAndGlyphs" fill="#000" stroke="#000" stroke-width="0.2" >0.10</text>
<line x1="259.75" y1="601.5" x2="259.75" y2="605.5" stroke="#000" stroke-width="0.92"/>
<text x="259.75" y="618.70" font-size="12.08" text-anchor="middle" textLength="25.61" lengthAdjust="spacingAndGlyphs" fill="#000" stroke="#000" stroke-width="0.2" >0.15</text>
<line x1="92.45" y1="451.13" x2="94.75" y2="451.13" stroke="#000" stroke-width="0.7"/>
<line x1="92.45" y1="446.70" x2="94.75" y2="446.70" stroke="#000" stroke-width="0.7"/>
<line x1="92.45" y1="443.56" x2="94.75" y2="443.56" stroke="#000" stroke-width="0.7"/>
<line x1="92.45" y1="441.12" x2="94.75" y2="441.12" stroke="#000" stroke-width="0.7"/>
<line x1="92.45" y1="439.13" x2="94.75" y2="439.13" stroke="#000" stroke-width="0.7"/>
<line x1="92.45" y1="437.45" x2="94.75" y2="437.45" stroke="#000" stroke-width="0.7"/>
<line x1="92.45" y1="476.28" x2="94.75" y2="476.28" stroke="#000" stroke-width="0.7"/>
<line x1="92.45" y1="471.85" x2="94.75" y2="471.85" stroke="#000" stroke-width="0.7"/>
<line x1="92.45" y1="468.71" x2="94.75" y2="468.71" stroke="#000" stroke-width="0.7"/>
<line x1="92.45" y1="466.27" x2="94.75" y2="466.27" stroke="#000" stroke-width="0.7"/>
<line x1="92.45" y1="464.28" x2="94.75" y2="464.28" stroke="#000" stroke-width="0.7"/>
<line x1="92.45" y1="462.60" x2="94.75" y2="462.60" stroke="#000" stroke-width="0.7"/>
<line x1="92.45" y1="461.14" x2="94.75" y2="461.14" stroke="#000" stroke-width="0.7"/>
<line x1="92.45" y1="459.85" x2="94.75" y2="459.85" stroke="#000" stroke-width="0.7"/>
<line x1="92.45" y1="501.43" x2="94.75" y2="501.43" stroke="#000" stroke-width="0.7"/>
<line x1="92.45" y1="497.00" x2="94.75" y2="497.00" stroke="#000" stroke-width="0.7"/>
<line x1="92.45" y1="493.86" x2="94.75" y2="493.86" stroke="#000" stroke-width="0.7"/>
<line x1="92.45" y1="491.42" x2="94.75" y2="491.42" stroke="#000" stroke-width="0.7"/>
<line x1="92.45" y1="489.43" x2="94.75" y2="489.43" stroke="#000" stroke-width="0.7"/>
<line x1="92.45" y1="487.75" x2="94.75" y2="487.75" stroke="#000" stroke-width="0.7"/>
<line x1="92.45" y1="486.29" x2="94.75" y2="486.29" stroke="#000" stroke-width="0.7"/>
<line x1="92.45" y1="485.00" x2="94.75" y2="485.00" stroke="#000" stroke-width="0.7"/>
<line x1="92.45" y1="526.58" x2="94.75" y2="526.58" stroke="#000" stroke-width="0.7"/>
<line x1="92.45" y1="522.15" x2="94.75" y2="522.15" stroke="#000" stroke-width="0.7"/>
<line x1="92.45" y1="519.01" x2="94.75" y2="519.01" stroke="#000" stroke-width="0.7"/>
<line x1="92.45" y1="516.57" x2="94.75" y2="516.57" stroke="#000" stroke-width="0.7"/>
<line x1="92.45" y1="514.58" x2="94.75" y2="514.58" stroke="#000" stroke-width="0.7"/>
<line x1="92.45" y1="512.90" x2="94.75" y2="512.90" stroke="#000" stroke-width="0.7"/>
<line x1="92.45" y1="511.44" x2="94.75" y2="511.44" stroke="#000" stroke-width="0.7"/>
<line x1="92.45" y1="510.15" x2="94.75" y2="510.15" stroke="#000" stroke-width="0.7"/>
<line x1="92.45" y1="551.73" x2="94.75" y2="551.73" stroke="#000" stroke-width="0.7"/>
<line x1="92.45" y1="547.30" x2="94.75" y2="547.30" stroke="#000" stroke-width="0.7"/>
<line x1="92.45" y1="544.16" x2="94.75" y2="544.16" stroke="#000" stroke-width="0.7"/>
<line x1="92.45" y1="541.72" x2="94.75" y2="541.72" stroke="#000" stroke-width="0.7"/>
<line x1="92.45" y1="539.73" x2="94.75" y2="539.73" stroke="#000" stroke-width="0.7"/>
<line x1="92.45" y1="538.05" x2="94.75" y2="538.05" stroke="#000" stroke-width="0.7"/>
<line x1="92.45" y1="536.59" x2="94.75" y2="536.59" stroke="#000" stroke-width="0.7"/>
<line x1="92.45" y1="535.30" x2="94.75" y2="535.30" stroke="#000" stroke-width="0.7"/>
<line x1="92.45" y1="576.88" x2="94.75" y2="576.88" stroke="#000" stroke-width="0.7"/>
<line x1="92.45" y1="572.45" x2="94.75" y2="572.45" stroke="#000" stroke-width="0.7"/>
<line x1="92.45" y1="569.31" x2="94.75" y2="569.31" stroke="#000" stroke-width="0.7"/>
<line x1="92.45" y1="566.87" x2="94.75" y2="566.87" stroke="#000" stroke-width="0.7"/>
<line x1="92.45" y1="564.88" x2="94.75" y2="564.88" stroke="#000" stroke-width="0.7"/>
<line x1="92.45" y1="563.20" x2="94.75" y2="563.20" stroke="#000" stroke-width="0.7"/>
<line x1="92.45" y1="561.74" x2="94.75" y2="561.74" stroke="#000" stroke-width="0.7"/>
<line x1="92.45" y1="560.45" x2="94.75" y2="560.45" stroke="#000" stroke-width="0.7"/>
<line x1="92.45" y1="597.60" x2="94.75" y2="597.60" stroke="#000" stroke-width="0.7"/>
<line x1="92.45" y1="594.46" x2="94.75" y2="594.46" stroke="#000" stroke-width="0.7"/>
<line x1="92.45" y1="592.02" x2="94.75" y2="592.02" stroke="#000" stroke-width="0.7"/>
<line x1="92.45" y1="590.03" x2="94.75" y2="590.03" stroke="#000" stroke-width="0.7"/>
<line x1="92.45" y1="588.35" x2="94.75" y2="588.35" stroke="#000" stroke-width="0.7"/>
<line x1="92.45" y1="586.89" x2="94.75" y2="586.89" stroke="#000" stroke-width="0.7"/>
<line x1="92.45" y1="585.60" x2="94.75" y2="585.60" stroke="#000" stroke-width="0.7"/>
<line x1="90.75" y1="458.70" x2="94.75" y2="458.70" stroke="#000" stroke-width="0.92"/>
<text x="60.35" y="463.00" font-size="12.08" text-anchor="start" textLength="14.63" lengthAdjust="spacingAndGlyphs" fill="#000" stroke="#000" stroke-width="0.2" >10</text>
<text x="74.98" y="459.10" font-size="8.45" text-anchor="start" textLength="11.87" lengthAdjust="spacingAndGlyphs" fill="#000" stroke="#000" stroke-width="0.2" >−1</text>
<line x1="90.75" y1="483.85" x2="94.75" y2="483.85" stroke="#000" stroke-width="0.92"/>
<text x="60.35" y="488.15" font-size="12.08" text-anchor="start" textLength="14.63" lengthAdjust="spacingAndGlyphs" fill="#000" stroke="#000" stroke-width="0.2" >10</text>
<text x="74.98" y="484.25" font-size="8.45" text-anchor="start" textLength="11.87" lengthAdjust="spacingAndGlyphs" fill="#000" stroke="#000" stroke-width="0.2" >−2</text>
<line x1="90.75" y1="509.00" x2="94.75" y2="509.00" stroke="#000" stroke-width="0.92"/>
<text x="60.35" y="513.30" font-size="12.08" text-anchor="start" textLength="14.63" lengthAdjust="spacingAndGlyphs" fill="#000" stroke="#000" stroke-width="0.2" >10</text>
<text x="74.98" y="509.40" font-size="8.45" text-anchor="start" textLength="11.87" lengthAdjust="spacingAndGlyphs" fill="#000" stroke="#000" stroke-width="0.2" >−3</text>
<line x1="90.75" y1="534.15" x2="94.75" y2="534.15" stroke="#000" stroke-width="0.92"/>
<text x="60.35" y="538.45" font-size="12.08" text-anchor="start" textLength="14.63" lengthAdjust="spacingAndGlyphs" fill="#000" stroke="#000" stroke-width="0.2" >10</text>
<text x="74.98" y="534.55" font-size="8.45" text-anchor="start" textLength="11.87" lengthAdjust="spacingAndGlyphs" fill="#000" stroke="#000" stroke-width="0.2" >−4</text>
<line x1="90.75" y1="559.30" x2="94.75" y2="559.30" stroke="#000" stroke-width="0.92"/>
<text x="60.35" y="563.60" font-size="12.08" text-anchor="start" textLength="14.63" lengthAdjust="spacingAndGlyphs" fill="#000" stroke="#000" stroke-width="0.2" >10</text>
<text x="74.98" y="559.70" font-size="8.45" text-anchor="start" textLength="11.87" lengthAdjust="spacingAndGlyphs" fill="#000" stroke="#000" stroke-width="0.2" >−5</text>
<line x1="90.75" y1="584.45" x2="94.75" y2="584.45" stroke="#000" stroke-width="0.92"/>
<text x="60.35" y="588.75" font-size="12.08" text-anchor="start" textLength="14.63" lengthAdjust="spacingAndGlyphs" fill="#000" stroke="#000" stroke-width="0.2" >10</text>
<text x="74.98" y="584.85" font-size="8.45" text-anchor="start" textLength="11.87" lengthAdjust="spacingAndGlyphs" fill="#000" stroke="#000" stroke-width="0.2" >−6</text>
<text x="194.25" y="429.70" font-size="14.49" text-anchor="middle" textLength="133.55" lengthAdjust="spacingAndGlyphs" fill="#000" stroke="#000" stroke-width="0.2" >Spread frequencies</text>
<rect x="356.2" y="625.4" width="276.8" height="138.10000000000002" rx="2.6" ry="2.6" fill="#fff" fill-opacity="0.8" stroke="#cccccc" stroke-opacity="0.8" stroke-width="0.92"/>
<line x1="360.2" y1="634.30" x2="384.7" y2="634.30" stroke="#000000" stroke-width="1.95"/>
<circle cx="372.4" cy="634.30" r="2.45" fill="#000000"/>
<text x="393.30" y="638.50" font-size="12.08" text-anchor="start" textLength="172.00" lengthAdjust="spacingAndGlyphs" fill="#000" stroke="#000" stroke-width="0.2" >λ=0 (RAT=0.24, REL=0.0474)</text>
<line x1="360.2" y1="651.24" x2="384.7" y2="651.24" stroke="#008000" stroke-width="1.95"/>
<circle cx="372.4" cy="651.24" r="2.45" fill="#008000"/>
<text x="393.30" y="655.44" font-size="12.08" text-anchor="start" textLength="182.98" lengthAdjust="spacingAndGlyphs" fill="#000" stroke="#000" stroke-width="0.2" >λ=0.1 (RAT=0.25, REL=0.0475)</text>
<line x1="360.2" y1="668.18" x2="384.7" y2="668.18" stroke="#ffc0cb" stroke-width="1.95"/>
<circle cx="372.4" cy="668.18" r="2.45" fill="#ffc0cb"/>
<text x="393.30" y="672.38" font-size="12.08" text-anchor="start" textLength="168.34" lengthAdjust="spacingAndGlyphs" fill="#000" stroke="#000" stroke-width="0.2" >λ=0.5 (RAT=0.33, REL=0.04)</text>
<line x1="360.2" y1="685.12" x2="384.7" y2="685.12" stroke="#00ffff" stroke-width="1.95"/>
<circle cx="372.4" cy="685.12" r="2.45" fill="#00ffff"/>
<text x="393.30" y="689.32" font-size="12.08" text-anchor="start" textLength="182.98" lengthAdjust="spacingAndGlyphs" fill="#000" stroke="#000" stroke-width="0.2" >λ=0.9 (RAT=0.47, REL=0.0336)</text>
<line x1="360.2" y1="702.06" x2="384.7" y2="702.06" stroke="#a52a2a" stroke-width="1.95"/>
<circle cx="372.4" cy="702.06" r="2.45" fill="#a52a2a"/>
<text x="393.30" y="706.26" font-size="12.08" text-anchor="start" textLength="190.29" lengthAdjust="spacingAndGlyphs" fill="#000" stroke="#000" stroke-width="0.2" >λ=0.99 (RAT=0.72, REL=0.0186)</text>
<line x1="360.2" y1="719.00" x2="384.7" y2="719.00" stroke="#ffff00" stroke-width="1.95"/>
<circle cx="372.4" cy="719.00" r="2.45" fill="#ffff00"/>
<text x="393.30" y="723.20" font-size="12.08" text-anchor="start" textLength="172.00" lengthAdjust="spacingAndGlyphs" fill="#000" stroke="#000" stroke-width="0.2" >λ=1 (RAT=1.65, REL=0.0202)</text>
<line x1="360.2" y1="735.94" x2="384.7" y2="735.94" stroke="#ff0000" stroke-width="1.95" stroke-dasharray="6.4,2.76"/>
<circle cx="372.4" cy="735.94" r="1.80" fill="none" stroke="#ff0000" stroke-width="1.3"/>
<text x="393.30" y="740.14" font-size="12.08" text-anchor="start" textLength="235.68" lengthAdjust="spacingAndGlyphs" fill="#000" stroke="#000" stroke-width="0.2" >CRPS training ((RAT=0.42, REL=0.0358))</text>
<line x1="360.2" y1="752.88" x2="384.7" y2="752.88" stroke="#0000ff" stroke-width="1.95"/>
<text x="393.30" y="757.08" font-size="12.08" text-anchor="start" textLength="42.92" lengthAdjust="spacingAndGlyphs" fill="#000" stroke="#000" stroke-width="0.2" >1:1 line</text></svg></body></html>
